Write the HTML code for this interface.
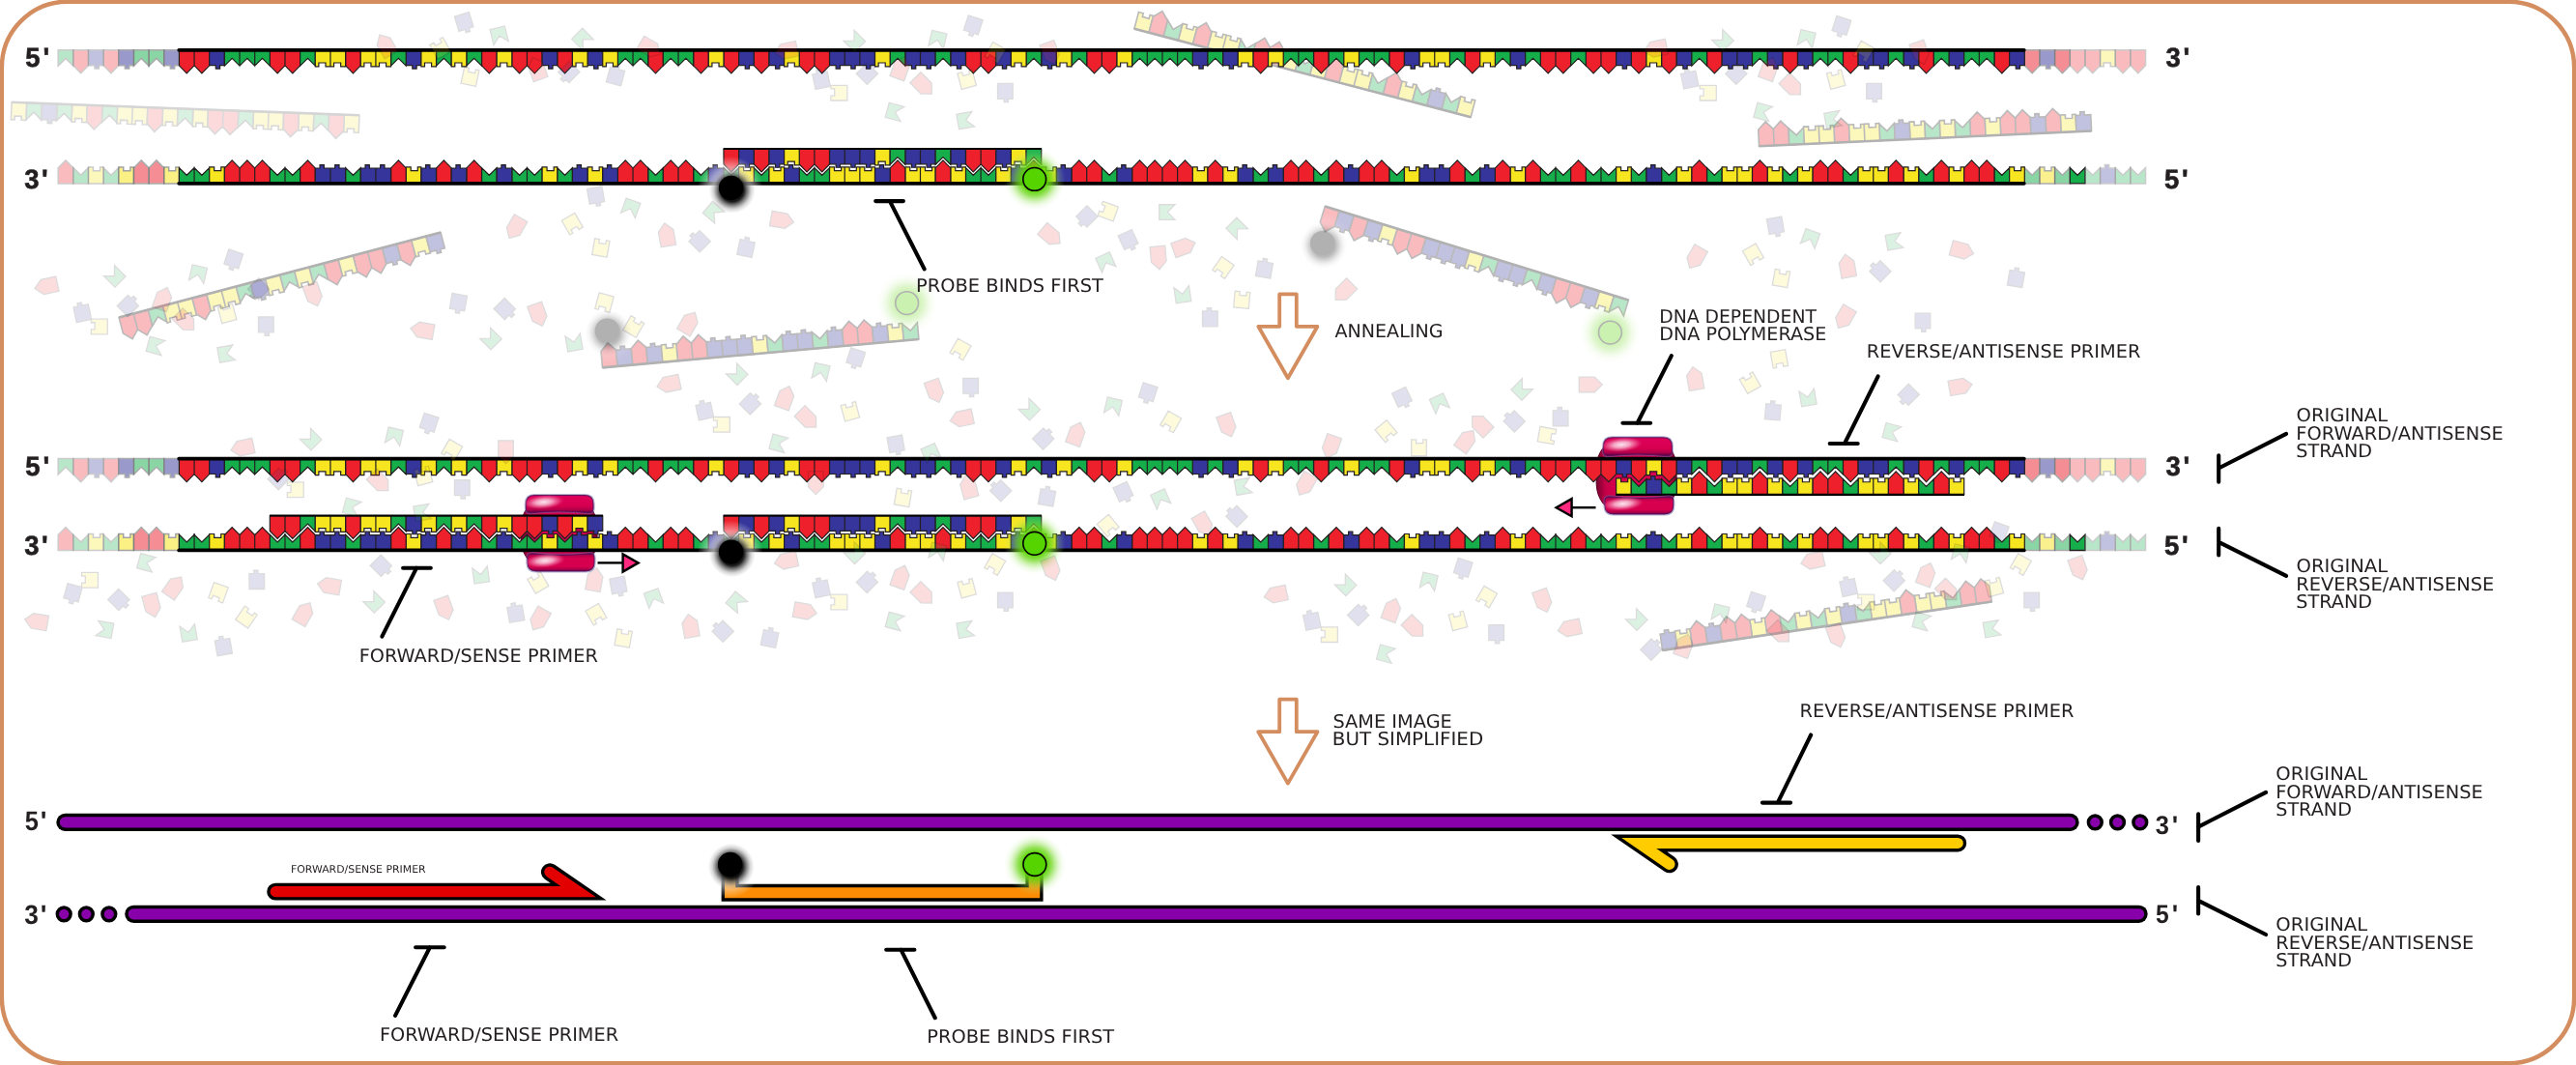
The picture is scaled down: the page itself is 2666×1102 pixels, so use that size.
<!DOCTYPE html>
<html lang="en"><head><meta charset="utf-8"><title>TaqMan probe annealing</title>
<style>html,body{margin:0;padding:0;background:#fff}body{width:2666px;height:1102px;overflow:hidden}svg{display:block;will-change:transform}text{font-family:"DejaVu Sans","Liberation Sans",sans-serif;fill:#231f20;text-rendering:geometricPrecision}.b{font-family:"Liberation Sans","DejaVu Sans",sans-serif;font-weight:bold;fill:#231f20;stroke:#231f20;stroke-width:.6px}.sb{font-family:"Liberation Sans","DejaVu Sans",sans-serif;font-weight:bold;fill:#231f20}</style></head><body>
<svg width="2666" height="1102" viewBox="0 0 2666 1102">
<defs>
<radialGradient id="gGreen"><stop offset="0" stop-color="#55d400" stop-opacity="1"/><stop offset="0.4" stop-color="#5cd406" stop-opacity=".95"/><stop offset="0.56" stop-color="#70d820" stop-opacity=".72"/><stop offset="0.69" stop-color="#88de44" stop-opacity=".45"/><stop offset="0.81" stop-color="#a2e66a" stop-opacity=".22"/><stop offset="0.93" stop-color="#bcee92" stop-opacity=".07"/><stop offset="1" stop-color="#c8f0a4" stop-opacity="0"/></radialGradient>
<radialGradient id="gBlack"><stop offset="0" stop-color="#000" stop-opacity="1"/><stop offset="0.5" stop-color="#000" stop-opacity=".9"/><stop offset="0.65" stop-color="#111" stop-opacity=".55"/><stop offset="0.82" stop-color="#333" stop-opacity=".2"/><stop offset="1" stop-color="#555" stop-opacity="0"/></radialGradient>
<radialGradient id="gWhite"><stop offset="0" stop-color="#fff" stop-opacity=".85"/><stop offset="0.5" stop-color="#fff" stop-opacity=".7"/><stop offset="0.75" stop-color="#fff" stop-opacity=".35"/><stop offset="1" stop-color="#fff" stop-opacity="0"/></radialGradient>
<linearGradient id="lobe" x1="0" y1="0" x2="0" y2="1"><stop offset="0" stop-color="#c80058"/><stop offset="0.12" stop-color="#de0058"/><stop offset="0.6" stop-color="#d6004f"/><stop offset="0.82" stop-color="#b2004a"/><stop offset="0.94" stop-color="#6c0048"/><stop offset="1" stop-color="#52104e"/></linearGradient>
<linearGradient id="lobeB" x1="0" y1="0" x2="0" y2="1"><stop offset="0" stop-color="#5a0a50"/><stop offset="0.1" stop-color="#b2004a"/><stop offset="0.28" stop-color="#d8004f"/><stop offset="0.75" stop-color="#d6004f"/><stop offset="0.92" stop-color="#a20048"/><stop offset="1" stop-color="#5c0c50"/></linearGradient>
<linearGradient id="bodyL" x1="0" y1="0" x2="1" y2="0"><stop offset="0" stop-color="#6a002a"/><stop offset="0.035" stop-color="#8e0036"/><stop offset="0.12" stop-color="#c60048"/><stop offset="0.25" stop-color="#d6004f"/><stop offset="0.75" stop-color="#d6004f"/><stop offset="0.88" stop-color="#c60048"/><stop offset="0.965" stop-color="#8e0036"/><stop offset="1" stop-color="#6a002a"/></linearGradient>
<radialGradient id="body"><stop offset="0" stop-color="#d80050"/><stop offset="0.78" stop-color="#d4004e"/><stop offset="0.92" stop-color="#b00042"/><stop offset="0.975" stop-color="#74002e"/><stop offset="1" stop-color="#5c0026"/></radialGradient>
<radialGradient id="shine"><stop offset="0" stop-color="#fff" stop-opacity=".9"/><stop offset="0.4" stop-color="#ffe4ee" stop-opacity=".7"/><stop offset="0.75" stop-color="#ffa8c8" stop-opacity=".3"/><stop offset="1" stop-color="#e8407c" stop-opacity="0"/></radialGradient>
<linearGradient id="stubL" x1="0" y1="0" x2="0" y2="1"><stop offset="0" stop-color="#2a1a00"/><stop offset="0.55" stop-color="#c87400"/><stop offset="1" stop-color="#fb8c04"/></linearGradient>
<linearGradient id="stubR" x1="0" y1="0" x2="0" y2="1"><stop offset="0" stop-color="#5ea000"/><stop offset="0.55" stop-color="#d89000"/><stop offset="1" stop-color="#fb8c04"/></linearGradient>
</defs>
<rect x="1.9" y="1.7" width="2662.2" height="1098.6" rx="68" ry="68" fill="#fff" stroke="#d38d5f" stroke-width="4.4"/>
<g transform="translate(12.1 105.8) rotate(2.15)" opacity="0.16">
<g stroke="#231f20" stroke-width="1.6"><path fill="#f7e51f" d="M0,0 15.65,0 15.65,17.95 10.7,17.95 10.7,14.15 3.6,14.15 3.6,17.95 0,17.95ZM62.62,0 78.27,0 78.27,17.95 73.32,17.95 73.32,14.15 66.22,14.15 66.22,17.95 62.62,17.95ZM109.58,0 125.24,0 125.24,17.95 120.28,17.95 120.28,14.15 113.18,14.15 113.18,17.95 109.58,17.95ZM125.24,0 140.89,0 140.89,17.95 135.94,17.95 135.94,14.15 128.84,14.15 128.84,17.95 125.24,17.95ZM156.55,0 172.2,0 172.2,17.95 167.25,17.95 167.25,14.15 160.15,14.15 160.15,17.95 156.55,17.95ZM187.86,0 203.51,0 203.51,17.95 198.56,17.95 198.56,14.15 191.46,14.15 191.46,17.95 187.86,17.95ZM250.48,0 266.13,0 266.13,17.95 261.18,17.95 261.18,14.15 254.08,14.15 254.08,17.95 250.48,17.95ZM266.13,0 281.79,0 281.79,17.95 276.83,17.95 276.83,14.15 269.74,14.15 269.74,17.95 266.13,17.95ZM297.44,0 313.1,0 313.1,17.95 308.14,17.95 308.14,14.15 301.05,14.15 301.05,17.95 297.44,17.95ZM344.41,0 360.06,0 360.06,17.95 355.11,17.95 355.11,14.15 348.01,14.15 348.01,17.95 344.41,17.95Z"/><path fill="#16ae4b" d="M15.65,0 31.31,0 31.31,17.25 23.48,9.55 15.65,17.25ZM46.96,0 62.62,0 62.62,17.25 54.79,9.55 46.96,17.25ZM93.93,0 109.58,0 109.58,17.25 101.76,9.55 93.93,17.25ZM172.2,0 187.86,0 187.86,17.25 180.03,9.55 172.2,17.25ZM234.82,0 250.48,0 250.48,17.25 242.65,9.55 234.82,17.25ZM313.1,0 328.75,0 328.75,17.25 320.93,9.55 313.1,17.25Z"/><path fill="#35359b" d="M31.31,0 46.96,0 46.96,16.85 42.21,16.85 42.21,20.25 37.91,20.25 37.91,16.85 31.31,16.85Z"/><path fill="#ed202b" d="M78.27,0 93.93,0 93.93,16.95 86.1,24.95 78.27,16.95ZM140.89,0 156.55,0 156.55,16.95 148.72,24.95 140.89,16.95ZM203.51,0 219.17,0 219.17,16.95 211.34,24.95 203.51,16.95ZM219.17,0 234.82,0 234.82,16.95 227,24.95 219.17,16.95ZM281.79,0 297.44,0 297.44,16.95 289.62,24.95 281.79,16.95ZM328.75,0 344.41,0 344.41,16.95 336.58,24.95 328.75,16.95Z"/></g>
<line x1="0" y1="0" x2="360.06" y2="0" stroke="#000" stroke-width="2.6"/>
</g>
<g transform="translate(1173.9 29.8) rotate(14.7)" opacity="0.3">
<g stroke="#231f20" stroke-width="1.6"><path fill="#f7e51f" d="M15.65,0 0,0 0,-17.95 4.96,-17.95 4.96,-14.15 12.05,-14.15 12.05,-17.95 15.65,-17.95ZM62.62,0 46.96,0 46.96,-17.95 51.92,-17.95 51.92,-14.15 59.02,-14.15 59.02,-17.95 62.62,-17.95ZM93.93,0 78.27,0 78.27,-17.95 83.23,-17.95 83.23,-14.15 90.33,-14.15 90.33,-17.95 93.93,-17.95ZM109.58,0 93.93,0 93.93,-17.95 98.88,-17.95 98.88,-14.15 105.98,-14.15 105.98,-17.95 109.58,-17.95ZM172.2,0 156.55,0 156.55,-17.95 161.5,-17.95 161.5,-14.15 168.6,-14.15 168.6,-17.95 172.2,-17.95ZM203.51,0 187.86,0 187.86,-17.95 192.81,-17.95 192.81,-14.15 199.91,-14.15 199.91,-17.95 203.51,-17.95ZM234.82,0 219.17,0 219.17,-17.95 224.12,-17.95 224.12,-14.15 231.22,-14.15 231.22,-17.95 234.82,-17.95ZM250.48,0 234.82,0 234.82,-17.95 239.78,-17.95 239.78,-14.15 246.88,-14.15 246.88,-17.95 250.48,-17.95ZM297.44,0 281.79,0 281.79,-17.95 286.74,-17.95 286.74,-14.15 293.84,-14.15 293.84,-17.95 297.44,-17.95ZM360.06,0 344.41,0 344.41,-17.95 349.36,-17.95 349.36,-14.15 356.46,-14.15 356.46,-17.95 360.06,-17.95Z"/><path fill="#ed202b" d="M31.31,0 15.65,0 15.65,-16.95 23.48,-24.95 31.31,-16.95ZM78.27,0 62.62,0 62.62,-16.95 70.45,-24.95 78.27,-16.95ZM140.89,0 125.24,0 125.24,-16.95 133.07,-24.95 140.89,-16.95ZM156.55,0 140.89,0 140.89,-16.95 148.72,-24.95 156.55,-16.95ZM219.17,0 203.51,0 203.51,-16.95 211.34,-24.95 219.17,-16.95ZM281.79,0 266.13,0 266.13,-16.95 273.96,-24.95 281.79,-16.95Z"/><path fill="#16ae4b" d="M46.96,0 31.31,0 31.31,-17.25 39.14,-9.55 46.96,-17.25ZM125.24,0 109.58,0 109.58,-17.25 117.41,-9.55 125.24,-17.25ZM187.86,0 172.2,0 172.2,-17.25 180.03,-9.55 187.86,-17.25ZM266.13,0 250.48,0 250.48,-17.25 258.31,-9.55 266.13,-17.25ZM313.1,0 297.44,0 297.44,-17.25 305.27,-9.55 313.1,-17.25ZM344.41,0 328.75,0 328.75,-17.25 336.58,-9.55 344.41,-17.25Z"/><path fill="#35359b" d="M328.75,0 313.1,0 313.1,-16.85 317.85,-16.85 317.85,-20.25 322.15,-20.25 322.15,-16.85 328.75,-16.85Z"/></g>
<line x1="0" y1="0" x2="360.06" y2="0" stroke="#000" stroke-width="2.6"/>
</g>
<g transform="translate(1820.5 151.2) rotate(-2.62)" opacity="0.3">
<g stroke="#231f20" stroke-width="1.6"><path fill="#ed202b" d="M15.65,0 0,0 0,-16.95 7.83,-24.95 15.65,-16.95ZM31.31,0 15.65,0 15.65,-16.95 23.48,-24.95 31.31,-16.95ZM93.93,0 78.27,0 78.27,-16.95 86.1,-24.95 93.93,-16.95ZM234.82,0 219.17,0 219.17,-16.95 227,-24.95 234.82,-16.95ZM266.13,0 250.48,0 250.48,-16.95 258.31,-24.95 266.13,-16.95ZM281.79,0 266.13,0 266.13,-16.95 273.96,-24.95 281.79,-16.95ZM313.1,0 297.44,0 297.44,-16.95 305.27,-24.95 313.1,-16.95Z"/><path fill="#16ae4b" d="M46.96,0 31.31,0 31.31,-17.25 39.14,-9.55 46.96,-17.25ZM140.89,0 125.24,0 125.24,-17.25 133.07,-9.55 140.89,-17.25ZM187.86,0 172.2,0 172.2,-17.25 180.03,-9.55 187.86,-17.25ZM219.17,0 203.51,0 203.51,-17.25 211.34,-9.55 219.17,-17.25Z"/><path fill="#f7e51f" d="M62.62,0 46.96,0 46.96,-17.95 51.92,-17.95 51.92,-14.15 59.02,-14.15 59.02,-17.95 62.62,-17.95ZM78.27,0 62.62,0 62.62,-17.95 67.57,-17.95 67.57,-14.15 74.67,-14.15 74.67,-17.95 78.27,-17.95ZM109.58,0 93.93,0 93.93,-17.95 98.88,-17.95 98.88,-14.15 105.98,-14.15 105.98,-17.95 109.58,-17.95ZM125.24,0 109.58,0 109.58,-17.95 114.54,-17.95 114.54,-14.15 121.64,-14.15 121.64,-17.95 125.24,-17.95ZM172.2,0 156.55,0 156.55,-17.95 161.5,-17.95 161.5,-14.15 168.6,-14.15 168.6,-17.95 172.2,-17.95ZM203.51,0 187.86,0 187.86,-17.95 192.81,-17.95 192.81,-14.15 199.91,-14.15 199.91,-17.95 203.51,-17.95ZM250.48,0 234.82,0 234.82,-17.95 239.78,-17.95 239.78,-14.15 246.88,-14.15 246.88,-17.95 250.48,-17.95ZM328.75,0 313.1,0 313.1,-17.95 318.05,-17.95 318.05,-14.15 325.15,-14.15 325.15,-17.95 328.75,-17.95Z"/><path fill="#35359b" d="M156.55,0 140.89,0 140.89,-16.85 145.65,-16.85 145.65,-20.25 149.95,-20.25 149.95,-16.85 156.55,-16.85ZM297.44,0 281.79,0 281.79,-16.85 286.54,-16.85 286.54,-20.25 290.84,-20.25 290.84,-16.85 297.44,-16.85ZM344.41,0 328.75,0 328.75,-16.85 333.51,-16.85 333.51,-20.25 337.81,-20.25 337.81,-16.85 344.41,-16.85Z"/></g>
<line x1="0" y1="0" x2="344.41" y2="0" stroke="#000" stroke-width="2.6"/>
</g>
<g transform="translate(123.1 328.6) rotate(-14.83)" opacity="0.3">
<g stroke="#231f20" stroke-width="1.6"><path fill="#ed202b" d="M0,0 15.65,0 15.65,16.95 7.83,24.95 0,16.95ZM15.65,0 31.31,0 31.31,16.95 23.48,24.95 15.65,16.95ZM78.27,0 93.93,0 93.93,16.95 86.1,24.95 78.27,16.95ZM219.17,0 234.82,0 234.82,16.95 227,24.95 219.17,16.95ZM250.48,0 266.13,0 266.13,16.95 258.31,24.95 250.48,16.95ZM266.13,0 281.79,0 281.79,16.95 273.96,24.95 266.13,16.95ZM297.44,0 313.1,0 313.1,16.95 305.27,24.95 297.44,16.95Z"/><path fill="#16ae4b" d="M31.31,0 46.96,0 46.96,17.25 39.14,9.55 31.31,17.25ZM125.24,0 140.89,0 140.89,17.25 133.07,9.55 125.24,17.25ZM172.2,0 187.86,0 187.86,17.25 180.03,9.55 172.2,17.25ZM203.51,0 219.17,0 219.17,17.25 211.34,9.55 203.51,17.25Z"/><path fill="#f7e51f" d="M46.96,0 62.62,0 62.62,17.95 57.66,17.95 57.66,14.15 50.56,14.15 50.56,17.95 46.96,17.95ZM62.62,0 78.27,0 78.27,17.95 73.32,17.95 73.32,14.15 66.22,14.15 66.22,17.95 62.62,17.95ZM93.93,0 109.58,0 109.58,17.95 104.63,17.95 104.63,14.15 97.53,14.15 97.53,17.95 93.93,17.95ZM109.58,0 125.24,0 125.24,17.95 120.28,17.95 120.28,14.15 113.18,14.15 113.18,17.95 109.58,17.95ZM156.55,0 172.2,0 172.2,17.95 167.25,17.95 167.25,14.15 160.15,14.15 160.15,17.95 156.55,17.95ZM187.86,0 203.51,0 203.51,17.95 198.56,17.95 198.56,14.15 191.46,14.15 191.46,17.95 187.86,17.95ZM234.82,0 250.48,0 250.48,17.95 245.52,17.95 245.52,14.15 238.42,14.15 238.42,17.95 234.82,17.95ZM313.1,0 328.75,0 328.75,17.95 323.8,17.95 323.8,14.15 316.7,14.15 316.7,17.95 313.1,17.95Z"/><path fill="#35359b" d="M140.89,0 156.55,0 156.55,16.85 151.79,16.85 151.79,20.25 147.49,20.25 147.49,16.85 140.89,16.85ZM281.79,0 297.44,0 297.44,16.85 292.69,16.85 292.69,20.25 288.39,20.25 288.39,16.85 281.79,16.85ZM328.75,0 344.41,0 344.41,16.85 339.65,16.85 339.65,20.25 335.36,20.25 335.36,16.85 328.75,16.85Z"/></g>
<line x1="0" y1="0" x2="344.41" y2="0" stroke="#000" stroke-width="2.6"/>
</g>
<g transform="translate(623.5 380.4) rotate(-5.13)" opacity="0.3">
<g stroke="#231f20" stroke-width="1.6"><path fill="#ed202b" d="M15.65,0 0,0 0,-16.95 7.83,-24.95 15.65,-16.95ZM46.96,0 31.31,0 31.31,-16.95 39.14,-24.95 46.96,-16.95ZM93.93,0 78.27,0 78.27,-16.95 86.1,-24.95 93.93,-16.95ZM109.58,0 93.93,0 93.93,-16.95 101.76,-24.95 109.58,-16.95ZM266.13,0 250.48,0 250.48,-16.95 258.31,-24.95 266.13,-16.95ZM281.79,0 266.13,0 266.13,-16.95 273.96,-24.95 281.79,-16.95Z"/><path fill="#35359b" d="M31.31,0 15.65,0 15.65,-16.85 20.41,-16.85 20.41,-20.25 24.71,-20.25 24.71,-16.85 31.31,-16.85ZM62.62,0 46.96,0 46.96,-16.85 51.72,-16.85 51.72,-20.25 56.02,-20.25 56.02,-16.85 62.62,-16.85ZM125.24,0 109.58,0 109.58,-16.85 114.34,-16.85 114.34,-20.25 118.64,-20.25 118.64,-16.85 125.24,-16.85ZM140.89,0 125.24,0 125.24,-16.85 129.99,-16.85 129.99,-20.25 134.29,-20.25 134.29,-16.85 140.89,-16.85ZM156.55,0 140.89,0 140.89,-16.85 145.65,-16.85 145.65,-20.25 149.95,-20.25 149.95,-16.85 156.55,-16.85ZM203.51,0 187.86,0 187.86,-16.85 192.61,-16.85 192.61,-20.25 196.91,-20.25 196.91,-16.85 203.51,-16.85ZM219.17,0 203.51,0 203.51,-16.85 208.27,-16.85 208.27,-20.25 212.57,-20.25 212.57,-16.85 219.17,-16.85ZM250.48,0 234.82,0 234.82,-16.85 239.58,-16.85 239.58,-20.25 243.88,-20.25 243.88,-16.85 250.48,-16.85ZM297.44,0 281.79,0 281.79,-16.85 286.54,-16.85 286.54,-20.25 290.84,-20.25 290.84,-16.85 297.44,-16.85Z"/><path fill="#f7e51f" d="M78.27,0 62.62,0 62.62,-17.95 67.57,-17.95 67.57,-14.15 74.67,-14.15 74.67,-17.95 78.27,-17.95ZM172.2,0 156.55,0 156.55,-17.95 161.5,-17.95 161.5,-14.15 168.6,-14.15 168.6,-17.95 172.2,-17.95ZM313.1,0 297.44,0 297.44,-17.95 302.4,-17.95 302.4,-14.15 309.5,-14.15 309.5,-17.95 313.1,-17.95Z"/><path fill="#16ae4b" d="M187.86,0 172.2,0 172.2,-17.25 180.03,-9.55 187.86,-17.25ZM234.82,0 219.17,0 219.17,-17.25 227,-9.55 234.82,-17.25ZM328.75,0 313.1,0 313.1,-17.25 320.93,-9.55 328.75,-17.25Z"/></g>
<line x1="0" y1="0" x2="328.75" y2="0" stroke="#000" stroke-width="2.6"/>
</g>
<g transform="translate(1371.3 213.6) rotate(17.15)" opacity="0.3">
<g stroke="#231f20" stroke-width="1.6"><path fill="#ed202b" d="M0,0 15.65,0 15.65,16.95 7.83,24.95 0,16.95ZM31.31,0 46.96,0 46.96,16.95 39.14,24.95 31.31,16.95ZM78.27,0 93.93,0 93.93,16.95 86.1,24.95 78.27,16.95ZM93.93,0 109.58,0 109.58,16.95 101.76,24.95 93.93,16.95ZM250.48,0 266.13,0 266.13,16.95 258.31,24.95 250.48,16.95ZM266.13,0 281.79,0 281.79,16.95 273.96,24.95 266.13,16.95Z"/><path fill="#35359b" d="M15.65,0 31.31,0 31.31,16.85 26.55,16.85 26.55,20.25 22.25,20.25 22.25,16.85 15.65,16.85ZM46.96,0 62.62,0 62.62,16.85 57.86,16.85 57.86,20.25 53.56,20.25 53.56,16.85 46.96,16.85ZM109.58,0 125.24,0 125.24,16.85 120.48,16.85 120.48,20.25 116.18,20.25 116.18,16.85 109.58,16.85ZM125.24,0 140.89,0 140.89,16.85 136.14,16.85 136.14,20.25 131.84,20.25 131.84,16.85 125.24,16.85ZM140.89,0 156.55,0 156.55,16.85 151.79,16.85 151.79,20.25 147.49,20.25 147.49,16.85 140.89,16.85ZM187.86,0 203.51,0 203.51,16.85 198.76,16.85 198.76,20.25 194.46,20.25 194.46,16.85 187.86,16.85ZM203.51,0 219.17,0 219.17,16.85 214.41,16.85 214.41,20.25 210.11,20.25 210.11,16.85 203.51,16.85ZM234.82,0 250.48,0 250.48,16.85 245.72,16.85 245.72,20.25 241.42,20.25 241.42,16.85 234.82,16.85ZM281.79,0 297.44,0 297.44,16.85 292.69,16.85 292.69,20.25 288.39,20.25 288.39,16.85 281.79,16.85Z"/><path fill="#f7e51f" d="M62.62,0 78.27,0 78.27,17.95 73.32,17.95 73.32,14.15 66.22,14.15 66.22,17.95 62.62,17.95ZM156.55,0 172.2,0 172.2,17.95 167.25,17.95 167.25,14.15 160.15,14.15 160.15,17.95 156.55,17.95ZM297.44,0 313.1,0 313.1,17.95 308.14,17.95 308.14,14.15 301.05,14.15 301.05,17.95 297.44,17.95Z"/><path fill="#16ae4b" d="M172.2,0 187.86,0 187.86,17.25 180.03,9.55 172.2,17.25ZM219.17,0 234.82,0 234.82,17.25 227,9.55 219.17,17.25ZM313.1,0 328.75,0 328.75,17.25 320.93,9.55 313.1,17.25Z"/></g>
<line x1="0" y1="0" x2="328.75" y2="0" stroke="#000" stroke-width="2.6"/>
</g>
<g transform="translate(1720.6 672.9) rotate(-8.4)" opacity="0.3">
<g stroke="#231f20" stroke-width="1.6"><path fill="#35359b" d="M15.65,0 0,0 0,-16.85 4.75,-16.85 4.75,-20.25 9.05,-20.25 9.05,-16.85 15.65,-16.85ZM62.62,0 46.96,0 46.96,-16.85 51.72,-16.85 51.72,-20.25 56.02,-20.25 56.02,-16.85 62.62,-16.85ZM203.51,0 187.86,0 187.86,-16.85 192.61,-16.85 192.61,-20.25 196.91,-20.25 196.91,-16.85 203.51,-16.85Z"/><path fill="#f7e51f" d="M31.31,0 15.65,0 15.65,-17.95 20.61,-17.95 20.61,-14.15 27.71,-14.15 27.71,-17.95 31.31,-17.95ZM109.58,0 93.93,0 93.93,-17.95 98.88,-17.95 98.88,-14.15 105.98,-14.15 105.98,-17.95 109.58,-17.95ZM156.55,0 140.89,0 140.89,-17.95 145.85,-17.95 145.85,-14.15 152.95,-14.15 152.95,-17.95 156.55,-17.95ZM187.86,0 172.2,0 172.2,-17.95 177.16,-17.95 177.16,-14.15 184.26,-14.15 184.26,-17.95 187.86,-17.95ZM234.82,0 219.17,0 219.17,-17.95 224.12,-17.95 224.12,-14.15 231.22,-14.15 231.22,-17.95 234.82,-17.95ZM250.48,0 234.82,0 234.82,-17.95 239.78,-17.95 239.78,-14.15 246.88,-14.15 246.88,-17.95 250.48,-17.95ZM281.79,0 266.13,0 266.13,-17.95 271.09,-17.95 271.09,-14.15 278.19,-14.15 278.19,-17.95 281.79,-17.95ZM297.44,0 281.79,0 281.79,-17.95 286.74,-17.95 286.74,-14.15 293.84,-14.15 293.84,-17.95 297.44,-17.95Z"/><path fill="#ed202b" d="M46.96,0 31.31,0 31.31,-16.95 39.14,-24.95 46.96,-16.95ZM78.27,0 62.62,0 62.62,-16.95 70.45,-24.95 78.27,-16.95ZM93.93,0 78.27,0 78.27,-16.95 86.1,-24.95 93.93,-16.95ZM125.24,0 109.58,0 109.58,-16.95 117.41,-24.95 125.24,-16.95ZM266.13,0 250.48,0 250.48,-16.95 258.31,-24.95 266.13,-16.95ZM328.75,0 313.1,0 313.1,-16.95 320.93,-24.95 328.75,-16.95ZM344.41,0 328.75,0 328.75,-16.95 336.58,-24.95 344.41,-16.95Z"/><path fill="#16ae4b" d="M140.89,0 125.24,0 125.24,-17.25 133.07,-9.55 140.89,-17.25ZM172.2,0 156.55,0 156.55,-17.25 164.38,-9.55 172.2,-17.25ZM219.17,0 203.51,0 203.51,-17.25 211.34,-9.55 219.17,-17.25ZM313.1,0 297.44,0 297.44,-17.25 305.27,-9.55 313.1,-17.25Z"/></g>
<line x1="0" y1="0" x2="344.41" y2="0" stroke="#000" stroke-width="2.6"/>
</g>
<g opacity=".3">
<circle cx="627.4" cy="343.2" r="34" fill="url(#gWhite)"/>
<circle cx="629.6" cy="344.4" r="24" fill="url(#gBlack)"/>
<circle cx="628.4" cy="342.2" r="12.7" fill="#000"/>
<circle cx="938.6" cy="313.6" r="32" fill="url(#gGreen)"/>
<circle cx="938.6" cy="313.6" r="11.9" fill="#55d400" stroke="#000" stroke-width="1.6"/>
<circle cx="1367.7" cy="252.6" r="34" fill="url(#gWhite)"/>
<circle cx="1369.9" cy="253.8" r="24" fill="url(#gBlack)"/>
<circle cx="1368.7" cy="251.6" r="12.7" fill="#000"/>
<circle cx="1666.4" cy="344.1" r="32" fill="url(#gGreen)"/>
<circle cx="1666.4" cy="344.1" r="11.9" fill="#55d400" stroke="#000" stroke-width="1.6"/>
</g>
<g id="row1">
<path d="M60.16,51.8 75.82,51.8 75.82,68.1 67.99,60.4 60.16,68.1Z" fill="#16ae4b" stroke="#58595b" stroke-width="1.5" opacity="0.3"/>
<path d="M75.82,51.8 91.47,51.8 91.47,67.8 83.64,75.8 75.82,67.8Z" fill="#ed202b" stroke="#58595b" stroke-width="1.5" opacity="0.3"/>
<path d="M91.47,51.8 107.13,51.8 107.13,67.7 102.37,67.7 102.37,71.1 98.07,71.1 98.07,67.7 91.47,67.7Z" fill="#35359b" stroke="#58595b" stroke-width="1.5" opacity="0.3"/>
<path d="M107.13,51.8 122.78,51.8 122.78,67.8 114.95,75.8 107.13,67.8Z" fill="#ed202b" stroke="#58595b" stroke-width="1.5" opacity="0.3"/>
<path d="M122.78,51.8 138.44,51.8 138.44,67.7 133.68,67.7 133.68,71.1 129.38,71.1 129.38,67.7 122.78,67.7Z" fill="#35359b" stroke="#58595b" stroke-width="1.5" opacity="0.5"/>
<path d="M138.44,51.8 154.09,51.8 154.09,68.1 146.26,60.4 138.44,68.1Z" fill="#16ae4b" stroke="#58595b" stroke-width="1.5" opacity="0.5"/>
<path d="M154.09,51.8 169.75,51.8 169.75,68.1 161.92,60.4 154.09,68.1Z" fill="#16ae4b" stroke="#58595b" stroke-width="1.5" opacity="0.5"/>
<path d="M169.75,51.8 185.4,51.8 185.4,67.7 180.65,67.7 180.65,71.1 176.34,71.1 176.34,67.7 169.75,67.7Z" fill="#35359b" stroke="#58595b" stroke-width="1.5" opacity="0.5"/>
<path d="M2095.31,51.8 2110.97,51.8 2110.97,67.8 2103.14,75.8 2095.31,67.8Z" fill="#ed202b" stroke="#58595b" stroke-width="1.5" opacity="0.5"/>
<path d="M2110.96,51.8 2126.62,51.8 2126.62,67.7 2121.86,67.7 2121.86,71.1 2117.56,71.1 2117.56,67.7 2110.96,67.7Z" fill="#35359b" stroke="#58595b" stroke-width="1.5" opacity="0.5"/>
<path d="M2126.62,51.8 2142.28,51.8 2142.28,67.8 2134.45,75.8 2126.62,67.8Z" fill="#ed202b" stroke="#58595b" stroke-width="1.5" opacity="0.5"/>
<path d="M2142.28,51.8 2157.93,51.8 2157.93,67.8 2150.1,75.8 2142.28,67.8Z" fill="#ed202b" stroke="#58595b" stroke-width="1.5" opacity="0.3"/>
<path d="M2157.93,51.8 2173.59,51.8 2173.59,67.8 2165.76,75.8 2157.93,67.8Z" fill="#ed202b" stroke="#58595b" stroke-width="1.5" opacity="0.3"/>
<path d="M2173.59,51.8 2189.24,51.8 2189.24,68.8 2184.28,68.8 2184.28,65 2177.18,65 2177.18,68.8 2173.59,68.8Z" fill="#f7e51f" stroke="#58595b" stroke-width="1.5" opacity="0.3"/>
<path d="M2189.24,51.8 2204.89,51.8 2204.89,67.8 2197.07,75.8 2189.24,67.8Z" fill="#ed202b" stroke="#58595b" stroke-width="1.5" opacity="0.3"/>
<path d="M2204.89,51.8 2220.55,51.8 2220.55,67.8 2212.72,75.8 2204.89,67.8Z" fill="#ed202b" stroke="#58595b" stroke-width="1.5" opacity="0.3"/>
<g stroke="#231f20" stroke-width="1.2" stroke-linejoin="miter"><path fill="#ed202b" d="M185.4,52.5 201.06,52.5 201.06,67.8 193.23,75.8 185.4,67.8ZM201.06,52.5 216.71,52.5 216.71,67.8 208.88,75.8 201.06,67.8ZM279.33,52.5 294.98,52.5 294.98,67.8 287.16,75.8 279.33,67.8ZM294.99,52.5 310.64,52.5 310.64,67.8 302.81,75.8 294.99,67.8ZM357.61,52.5 373.26,52.5 373.26,67.8 365.43,75.8 357.61,67.8ZM498.5,52.5 514.15,52.5 514.15,67.8 506.33,75.8 498.5,67.8ZM529.81,52.5 545.46,52.5 545.46,67.8 537.64,75.8 529.81,67.8ZM545.47,52.5 561.12,52.5 561.12,67.8 553.29,75.8 545.47,67.8ZM576.77,52.5 592.43,52.5 592.43,67.8 584.6,75.8 576.77,67.8ZM670.71,52.5 686.36,52.5 686.36,67.8 678.53,75.8 670.71,67.8ZM717.67,52.5 733.32,52.5 733.32,67.8 725.5,75.8 717.67,67.8ZM748.98,52.5 764.63,52.5 764.63,67.8 756.81,75.8 748.98,67.8ZM780.29,52.5 795.94,52.5 795.94,67.8 788.12,75.8 780.29,67.8ZM827.25,52.5 842.91,52.5 842.91,67.8 835.08,75.8 827.25,67.8ZM842.91,52.5 858.56,52.5 858.56,67.8 850.74,75.8 842.91,67.8ZM999.46,52.5 1015.11,52.5 1015.11,67.8 1007.29,75.8 999.46,67.8ZM1015.11,52.5 1030.77,52.5 1030.77,67.8 1022.94,75.8 1015.11,67.8ZM1124.7,52.5 1140.36,52.5 1140.36,67.8 1132.53,75.8 1124.7,67.8ZM1140.36,52.5 1156.01,52.5 1156.01,67.8 1148.18,75.8 1140.36,67.8ZM1296.9,52.5 1312.56,52.5 1312.56,67.8 1304.73,75.8 1296.9,67.8ZM1359.53,52.5 1375.18,52.5 1375.18,67.8 1367.35,75.8 1359.53,67.8ZM1437.8,52.5 1453.45,52.5 1453.45,67.8 1445.63,75.8 1437.8,67.8ZM1516.08,52.5 1531.73,52.5 1531.73,67.8 1523.9,75.8 1516.08,67.8ZM1594.35,52.5 1610.01,52.5 1610.01,67.8 1602.18,75.8 1594.35,67.8ZM1610.01,52.5 1625.66,52.5 1625.66,67.8 1617.83,75.8 1610.01,67.8ZM1641.32,52.5 1656.97,52.5 1656.97,67.8 1649.14,75.8 1641.32,67.8ZM1656.97,52.5 1672.62,52.5 1672.62,67.8 1664.8,75.8 1656.97,67.8ZM1688.28,52.5 1703.93,52.5 1703.93,67.8 1696.11,75.8 1688.28,67.8ZM1719.59,52.5 1735.24,52.5 1735.24,67.8 1727.42,75.8 1719.59,67.8ZM1766.56,52.5 1782.21,52.5 1782.21,67.8 1774.38,75.8 1766.56,67.8ZM1844.83,52.5 1860.48,52.5 1860.48,67.8 1852.66,75.8 1844.83,67.8ZM1907.45,52.5 1923.11,52.5 1923.11,67.8 1915.28,75.8 1907.45,67.8ZM1985.72,52.5 2001.38,52.5 2001.38,67.8 1993.55,75.8 1985.72,67.8ZM2064,52.5 2079.66,52.5 2079.66,67.8 2071.83,75.8 2064,67.8Z"/><path fill="#35359b" d="M216.71,52.5 232.37,52.5 232.37,67.7 227.61,67.7 227.61,71.1 223.31,71.1 223.31,67.7 216.71,67.7ZM420.23,52.5 435.88,52.5 435.88,67.7 431.12,67.7 431.12,71.1 426.83,71.1 426.83,67.7 420.23,67.7ZM561.12,52.5 576.77,52.5 576.77,67.7 572.02,67.7 572.02,71.1 567.72,71.1 567.72,67.7 561.12,67.7ZM608.09,52.5 623.74,52.5 623.74,67.7 618.99,67.7 618.99,71.1 614.69,71.1 614.69,67.7 608.09,67.7ZM764.63,52.5 780.29,52.5 780.29,67.7 775.53,67.7 775.53,71.1 771.24,71.1 771.24,67.7 764.63,67.7ZM795.94,52.5 811.6,52.5 811.6,67.7 806.84,67.7 806.84,71.1 802.54,71.1 802.54,67.7 795.94,67.7ZM858.56,52.5 874.22,52.5 874.22,67.7 869.46,67.7 869.46,71.1 865.16,71.1 865.16,67.7 858.56,67.7ZM874.22,52.5 889.87,52.5 889.87,67.7 885.12,67.7 885.12,71.1 880.82,71.1 880.82,67.7 874.22,67.7ZM889.88,52.5 905.53,52.5 905.53,67.7 900.77,67.7 900.77,71.1 896.48,71.1 896.48,67.7 889.88,67.7ZM936.84,52.5 952.49,52.5 952.49,67.7 947.74,67.7 947.74,71.1 943.44,71.1 943.44,67.7 936.84,67.7ZM952.49,52.5 968.15,52.5 968.15,67.7 963.39,67.7 963.39,71.1 959.09,71.1 959.09,67.7 952.49,67.7ZM983.8,52.5 999.46,52.5 999.46,67.7 994.7,67.7 994.7,71.1 990.4,71.1 990.4,67.7 983.8,67.7ZM1030.77,52.5 1046.42,52.5 1046.42,67.7 1041.67,67.7 1041.67,71.1 1037.37,71.1 1037.37,67.7 1030.77,67.7ZM1077.73,52.5 1093.39,52.5 1093.39,67.7 1088.63,67.7 1088.63,71.1 1084.33,71.1 1084.33,67.7 1077.73,67.7ZM1234.29,52.5 1249.94,52.5 1249.94,67.7 1245.19,67.7 1245.19,71.1 1240.88,71.1 1240.88,67.7 1234.29,67.7ZM1265.6,52.5 1281.25,52.5 1281.25,67.7 1276.5,67.7 1276.5,71.1 1272.19,71.1 1272.19,67.7 1265.6,67.7ZM1453.45,52.5 1469.11,52.5 1469.11,67.7 1464.36,67.7 1464.36,71.1 1460.05,71.1 1460.05,67.7 1453.45,67.7ZM1563.04,52.5 1578.69,52.5 1578.69,67.7 1573.94,67.7 1573.94,71.1 1569.64,71.1 1569.64,67.7 1563.04,67.7ZM1672.62,52.5 1688.28,52.5 1688.28,67.7 1683.53,67.7 1683.53,71.1 1679.22,71.1 1679.22,67.7 1672.62,67.7ZM1735.25,52.5 1750.9,52.5 1750.9,67.7 1746.15,67.7 1746.15,71.1 1741.85,71.1 1741.85,67.7 1735.25,67.7ZM1782.21,52.5 1797.87,52.5 1797.87,67.7 1793.11,67.7 1793.11,71.1 1788.81,71.1 1788.81,67.7 1782.21,67.7ZM1797.87,52.5 1813.52,52.5 1813.52,67.7 1808.77,67.7 1808.77,71.1 1804.46,71.1 1804.46,67.7 1797.87,67.7ZM1829.17,52.5 1844.83,52.5 1844.83,67.7 1840.08,67.7 1840.08,71.1 1835.77,71.1 1835.77,67.7 1829.17,67.7ZM1860.49,52.5 1876.14,52.5 1876.14,67.7 1871.39,67.7 1871.39,71.1 1867.09,71.1 1867.09,67.7 1860.49,67.7ZM1923.11,52.5 1938.76,52.5 1938.76,67.7 1934.01,67.7 1934.01,71.1 1929.7,71.1 1929.7,67.7 1923.11,67.7ZM1938.76,52.5 1954.41,52.5 1954.41,67.7 1949.66,67.7 1949.66,71.1 1945.36,71.1 1945.36,67.7 1938.76,67.7ZM1970.07,52.5 1985.72,52.5 1985.72,67.7 1980.97,67.7 1980.97,71.1 1976.67,71.1 1976.67,67.7 1970.07,67.7ZM2017.04,52.5 2032.69,52.5 2032.69,67.7 2027.94,67.7 2027.94,71.1 2023.63,71.1 2023.63,67.7 2017.04,67.7ZM2079.65,52.5 2095.31,52.5 2095.31,67.7 2090.55,67.7 2090.55,71.1 2086.25,71.1 2086.25,67.7 2079.65,67.7Z"/><path fill="#16ae4b" d="M232.37,52.5 248.02,52.5 248.02,68.1 240.19,60.4 232.37,68.1ZM248.02,52.5 263.68,52.5 263.68,68.1 255.85,60.4 248.02,68.1ZM263.68,52.5 279.33,52.5 279.33,68.1 271.5,60.4 263.68,68.1ZM310.64,52.5 326.29,52.5 326.29,68.1 318.47,60.4 310.64,68.1ZM404.57,52.5 420.22,52.5 420.22,68.1 412.4,60.4 404.57,68.1ZM451.53,52.5 467.19,52.5 467.19,68.1 459.36,60.4 451.53,68.1ZM482.85,52.5 498.5,52.5 498.5,68.1 490.67,60.4 482.85,68.1ZM639.39,52.5 655.05,52.5 655.05,68.1 647.22,60.4 639.39,68.1ZM655.05,52.5 670.7,52.5 670.7,68.1 662.88,60.4 655.05,68.1ZM686.36,52.5 702.01,52.5 702.01,68.1 694.19,60.4 686.36,68.1ZM702.01,52.5 717.67,52.5 717.67,68.1 709.84,60.4 702.01,68.1ZM921.18,52.5 936.84,52.5 936.84,68.1 929.01,60.4 921.18,68.1ZM968.15,52.5 983.8,52.5 983.8,68.1 975.98,60.4 968.15,68.1ZM1062.08,52.5 1077.73,52.5 1077.73,68.1 1069.91,60.4 1062.08,68.1ZM1109.05,52.5 1124.7,52.5 1124.7,68.1 1116.87,60.4 1109.05,68.1ZM1171.66,52.5 1187.32,52.5 1187.32,68.1 1179.49,60.4 1171.66,68.1ZM1187.32,52.5 1202.97,52.5 1202.97,68.1 1195.15,60.4 1187.32,68.1ZM1202.97,52.5 1218.63,52.5 1218.63,68.1 1210.8,60.4 1202.97,68.1ZM1218.63,52.5 1234.29,52.5 1234.29,68.1 1226.46,60.4 1218.63,68.1ZM1249.94,52.5 1265.6,52.5 1265.6,68.1 1257.77,60.4 1249.94,68.1ZM1328.22,52.5 1343.87,52.5 1343.87,68.1 1336.04,60.4 1328.22,68.1ZM1343.87,52.5 1359.53,52.5 1359.53,68.1 1351.7,60.4 1343.87,68.1ZM1375.18,52.5 1390.84,52.5 1390.84,68.1 1383.01,60.4 1375.18,68.1ZM1406.49,52.5 1422.14,52.5 1422.14,68.1 1414.32,60.4 1406.49,68.1ZM1422.14,52.5 1437.8,52.5 1437.8,68.1 1429.97,60.4 1422.14,68.1ZM1500.42,52.5 1516.08,52.5 1516.08,68.1 1508.25,60.4 1500.42,68.1ZM1547.38,52.5 1563.04,52.5 1563.04,68.1 1555.21,60.4 1547.38,68.1ZM1578.69,52.5 1594.35,52.5 1594.35,68.1 1586.52,60.4 1578.69,68.1ZM1625.66,52.5 1641.32,52.5 1641.32,68.1 1633.49,60.4 1625.66,68.1ZM1750.9,52.5 1766.56,52.5 1766.56,68.1 1758.73,60.4 1750.9,68.1ZM1813.52,52.5 1829.17,52.5 1829.17,68.1 1821.35,60.4 1813.52,68.1ZM1876.14,52.5 1891.8,52.5 1891.8,68.1 1883.97,60.4 1876.14,68.1ZM1891.8,52.5 1907.45,52.5 1907.45,68.1 1899.62,60.4 1891.8,68.1ZM1954.41,52.5 1970.07,52.5 1970.07,68.1 1962.24,60.4 1954.41,68.1ZM2001.38,52.5 2017.04,52.5 2017.04,68.1 2009.21,60.4 2001.38,68.1ZM2032.69,52.5 2048.35,52.5 2048.35,68.1 2040.52,60.4 2032.69,68.1ZM2048.34,52.5 2064,52.5 2064,68.1 2056.17,60.4 2048.34,68.1Z"/><path fill="#f7e51f" d="M326.29,52.5 341.95,52.5 341.95,68.8 336.99,68.8 336.99,65 329.89,65 329.89,68.8 326.29,68.8ZM341.95,52.5 357.6,52.5 357.6,68.8 352.65,68.8 352.65,65 345.55,65 345.55,68.8 341.95,68.8ZM373.26,52.5 388.91,52.5 388.91,68.8 383.96,68.8 383.96,65 376.86,65 376.86,68.8 373.26,68.8ZM388.91,52.5 404.57,52.5 404.57,68.8 399.61,68.8 399.61,65 392.51,65 392.51,68.8 388.91,68.8ZM435.88,52.5 451.53,52.5 451.53,68.8 446.58,68.8 446.58,65 439.48,65 439.48,68.8 435.88,68.8ZM467.19,52.5 482.84,52.5 482.84,68.8 477.89,68.8 477.89,65 470.79,65 470.79,68.8 467.19,68.8ZM514.15,52.5 529.81,52.5 529.81,68.8 524.86,68.8 524.86,65 517.75,65 517.75,68.8 514.15,68.8ZM592.43,52.5 608.08,52.5 608.08,68.8 603.13,68.8 603.13,65 596.03,65 596.03,68.8 592.43,68.8ZM623.74,52.5 639.39,52.5 639.39,68.8 634.44,68.8 634.44,65 627.34,65 627.34,68.8 623.74,68.8ZM733.32,52.5 748.98,52.5 748.98,68.8 744.02,68.8 744.02,65 736.92,65 736.92,68.8 733.32,68.8ZM811.6,52.5 827.25,52.5 827.25,68.8 822.3,68.8 822.3,65 815.2,65 815.2,68.8 811.6,68.8ZM905.53,52.5 921.18,52.5 921.18,68.8 916.23,68.8 916.23,65 909.13,65 909.13,68.8 905.53,68.8ZM1046.42,52.5 1062.08,52.5 1062.08,68.8 1057.12,68.8 1057.12,65 1050.02,65 1050.02,68.8 1046.42,68.8ZM1093.39,52.5 1109.05,52.5 1109.05,68.8 1104.09,68.8 1104.09,65 1096.99,65 1096.99,68.8 1093.39,68.8ZM1156.01,52.5 1171.66,52.5 1171.66,68.8 1166.71,68.8 1166.71,65 1159.61,65 1159.61,68.8 1156.01,68.8ZM1281.25,52.5 1296.9,52.5 1296.9,68.8 1291.95,68.8 1291.95,65 1284.85,65 1284.85,68.8 1281.25,68.8ZM1312.56,52.5 1328.21,52.5 1328.21,68.8 1323.26,68.8 1323.26,65 1316.16,65 1316.16,68.8 1312.56,68.8ZM1390.84,52.5 1406.49,52.5 1406.49,68.8 1401.54,68.8 1401.54,65 1394.43,65 1394.43,68.8 1390.84,68.8ZM1469.11,52.5 1484.77,52.5 1484.77,68.8 1479.81,68.8 1479.81,65 1472.71,65 1472.71,68.8 1469.11,68.8ZM1484.77,52.5 1500.42,52.5 1500.42,68.8 1495.47,68.8 1495.47,65 1488.37,65 1488.37,68.8 1484.77,68.8ZM1531.73,52.5 1547.38,52.5 1547.38,68.8 1542.43,68.8 1542.43,65 1535.33,65 1535.33,68.8 1531.73,68.8ZM1703.93,52.5 1719.59,52.5 1719.59,68.8 1714.63,68.8 1714.63,65 1707.53,65 1707.53,68.8 1703.93,68.8Z"/></g>
<line x1="185.2" y1="51.85" x2="2094.81" y2="51.85" stroke="#000" stroke-width="3.7" stroke-linecap="round"/>
<path d="M75.82,189.9 60.16,189.9 60.16,173.9 67.99,165.9 75.82,173.9Z" fill="#ed202b" stroke="#58595b" stroke-width="1.5" opacity="0.3"/>
<path d="M91.47,189.9 75.82,189.9 75.82,173.6 83.64,181.3 91.47,173.6Z" fill="#16ae4b" stroke="#58595b" stroke-width="1.5" opacity="0.3"/>
<path d="M107.13,189.9 91.47,189.9 91.47,172.9 96.43,172.9 96.43,176.7 103.53,176.7 103.53,172.9 107.13,172.9Z" fill="#f7e51f" stroke="#58595b" stroke-width="1.5" opacity="0.3"/>
<path d="M122.78,189.9 107.13,189.9 107.13,173.6 114.95,181.3 122.78,173.6Z" fill="#16ae4b" stroke="#58595b" stroke-width="1.5" opacity="0.3"/>
<path d="M138.44,189.9 122.78,189.9 122.78,172.9 127.73,172.9 127.73,176.7 134.84,176.7 134.84,172.9 138.44,172.9Z" fill="#f7e51f" stroke="#58595b" stroke-width="1.5" opacity="0.55"/>
<path d="M154.09,189.9 138.44,189.9 138.44,173.9 146.26,165.9 154.09,173.9Z" fill="#ed202b" stroke="#58595b" stroke-width="1.5" opacity="0.5"/>
<path d="M169.75,189.9 154.09,189.9 154.09,173.9 161.92,165.9 169.75,173.9Z" fill="#ed202b" stroke="#58595b" stroke-width="1.5" opacity="0.5"/>
<path d="M185.4,189.9 169.75,189.9 169.75,172.9 174.7,172.9 174.7,176.7 181.8,176.7 181.8,172.9 185.4,172.9Z" fill="#f7e51f" stroke="#58595b" stroke-width="1.5" opacity="0.55"/>
<path d="M2110.97,189.9 2095.31,189.9 2095.31,173.6 2103.14,181.3 2110.97,173.6Z" fill="#16ae4b" stroke="#58595b" stroke-width="1.5" opacity="0.5"/>
<path d="M2126.62,189.9 2110.96,189.9 2110.96,172.9 2115.92,172.9 2115.92,176.7 2123.02,176.7 2123.02,172.9 2126.62,172.9Z" fill="#f7e51f" stroke="#58595b" stroke-width="1.5" opacity="0.5"/>
<path d="M2142.28,189.9 2126.62,189.9 2126.62,173.6 2134.45,181.3 2142.28,173.6Z" fill="#16ae4b" stroke="#58595b" stroke-width="1.5" opacity="0.5"/>
<path d="M2157.93,189.9 2142.28,189.9 2142.28,173.6 2150.1,181.3 2157.93,173.6Z" fill="#16ae4b" stroke="#231f20" stroke-width="1.3"/>
<path d="M2173.59,189.9 2157.93,189.9 2157.93,173.6 2165.76,181.3 2173.59,173.6Z" fill="#16ae4b" stroke="#58595b" stroke-width="1.5" opacity="0.3"/>
<path d="M2189.24,189.9 2173.59,189.9 2173.59,174 2178.34,174 2178.34,170.6 2182.64,170.6 2182.64,174 2189.24,174Z" fill="#35359b" stroke="#58595b" stroke-width="1.5" opacity="0.3"/>
<path d="M2204.89,189.9 2189.24,189.9 2189.24,173.6 2197.07,181.3 2204.89,173.6Z" fill="#16ae4b" stroke="#58595b" stroke-width="1.5" opacity="0.3"/>
<path d="M2220.55,189.9 2204.89,189.9 2204.89,173.6 2212.72,181.3 2220.55,173.6Z" fill="#16ae4b" stroke="#58595b" stroke-width="1.5" opacity="0.3"/>
<g stroke="#231f20" stroke-width="1.2" stroke-linejoin="miter"><path fill="#16ae4b" d="M201.06,189.2 185.4,189.2 185.4,173.6 193.23,181.3 201.06,173.6ZM216.71,189.2 201.06,189.2 201.06,173.6 208.88,181.3 216.71,173.6ZM294.98,189.2 279.33,189.2 279.33,173.6 287.16,181.3 294.98,173.6ZM310.64,189.2 294.99,189.2 294.99,173.6 302.81,181.3 310.64,173.6ZM373.26,189.2 357.61,189.2 357.61,173.6 365.43,181.3 373.26,173.6ZM514.15,189.2 498.5,189.2 498.5,173.6 506.33,181.3 514.15,173.6ZM545.46,189.2 529.81,189.2 529.81,173.6 537.64,181.3 545.46,173.6ZM561.12,189.2 545.47,189.2 545.47,173.6 553.29,181.3 561.12,173.6ZM592.43,189.2 576.77,189.2 576.77,173.6 584.6,181.3 592.43,173.6ZM686.36,189.2 670.71,189.2 670.71,173.6 678.53,181.3 686.36,173.6ZM733.32,189.2 717.67,189.2 717.67,173.6 725.5,181.3 733.32,173.6ZM764.63,189.2 748.98,189.2 748.98,173.6 756.81,181.3 764.63,173.6ZM795.94,189.2 780.29,189.2 780.29,173.6 788.12,181.3 795.94,173.6ZM842.91,189.2 827.25,189.2 827.25,173.6 835.08,181.3 842.91,173.6ZM858.56,189.2 842.91,189.2 842.91,173.6 850.74,181.3 858.56,173.6ZM1015.11,189.2 999.46,189.2 999.46,173.6 1007.29,181.3 1015.11,173.6ZM1030.77,189.2 1015.12,189.2 1015.12,173.6 1022.94,181.3 1030.77,173.6ZM1156.01,189.2 1140.36,189.2 1140.36,173.6 1148.18,181.3 1156.01,173.6ZM1312.56,189.2 1296.9,189.2 1296.9,173.6 1304.73,181.3 1312.56,173.6ZM1375.18,189.2 1359.53,189.2 1359.53,173.6 1367.35,181.3 1375.18,173.6ZM1453.45,189.2 1437.8,189.2 1437.8,173.6 1445.63,181.3 1453.45,173.6ZM1531.73,189.2 1516.08,189.2 1516.08,173.6 1523.9,181.3 1531.73,173.6ZM1610.01,189.2 1594.35,189.2 1594.35,173.6 1602.18,181.3 1610.01,173.6ZM1625.66,189.2 1610.01,189.2 1610.01,173.6 1617.83,181.3 1625.66,173.6ZM1656.97,189.2 1641.32,189.2 1641.32,173.6 1649.14,181.3 1656.97,173.6ZM1672.62,189.2 1656.97,189.2 1656.97,173.6 1664.8,181.3 1672.62,173.6ZM1703.93,189.2 1688.28,189.2 1688.28,173.6 1696.11,181.3 1703.93,173.6ZM1735.24,189.2 1719.59,189.2 1719.59,173.6 1727.42,181.3 1735.24,173.6ZM1782.21,189.2 1766.56,189.2 1766.56,173.6 1774.38,181.3 1782.21,173.6ZM1860.48,189.2 1844.83,189.2 1844.83,173.6 1852.66,181.3 1860.48,173.6ZM1923.11,189.2 1907.45,189.2 1907.45,173.6 1915.28,181.3 1923.11,173.6ZM2001.38,189.2 1985.72,189.2 1985.72,173.6 1993.55,181.3 2001.38,173.6ZM2079.66,189.2 2064,189.2 2064,173.6 2071.83,181.3 2079.66,173.6Z"/><path fill="#f7e51f" d="M232.37,189.2 216.71,189.2 216.71,172.9 221.67,172.9 221.67,176.7 228.77,176.7 228.77,172.9 232.37,172.9ZM435.88,189.2 420.23,189.2 420.23,172.9 425.18,172.9 425.18,176.7 432.28,176.7 432.28,172.9 435.88,172.9ZM576.77,189.2 561.12,189.2 561.12,172.9 566.07,172.9 566.07,176.7 573.17,176.7 573.17,172.9 576.77,172.9ZM623.74,189.2 608.09,189.2 608.09,172.9 613.04,172.9 613.04,176.7 620.14,176.7 620.14,172.9 623.74,172.9ZM780.29,189.2 764.63,189.2 764.63,172.9 769.59,172.9 769.59,176.7 776.69,176.7 776.69,172.9 780.29,172.9ZM811.6,189.2 795.94,189.2 795.94,172.9 800.9,172.9 800.9,176.7 808,176.7 808,172.9 811.6,172.9ZM874.22,189.2 858.56,189.2 858.56,172.9 863.52,172.9 863.52,176.7 870.62,176.7 870.62,172.9 874.22,172.9ZM889.87,189.2 874.22,189.2 874.22,172.9 879.17,172.9 879.17,176.7 886.27,176.7 886.27,172.9 889.87,172.9ZM905.53,189.2 889.88,189.2 889.88,172.9 894.83,172.9 894.83,176.7 901.93,176.7 901.93,172.9 905.53,172.9ZM952.49,189.2 936.84,189.2 936.84,172.9 941.79,172.9 941.79,176.7 948.89,176.7 948.89,172.9 952.49,172.9ZM968.15,189.2 952.49,189.2 952.49,172.9 957.45,172.9 957.45,176.7 964.55,176.7 964.55,172.9 968.15,172.9ZM999.46,189.2 983.8,189.2 983.8,172.9 988.76,172.9 988.76,176.7 995.86,176.7 995.86,172.9 999.46,172.9ZM1046.42,189.2 1030.77,189.2 1030.77,172.9 1035.72,172.9 1035.72,176.7 1042.83,176.7 1042.83,172.9 1046.42,172.9ZM1093.39,189.2 1077.73,189.2 1077.73,172.9 1082.69,172.9 1082.69,176.7 1089.79,176.7 1089.79,172.9 1093.39,172.9ZM1249.94,189.2 1234.29,189.2 1234.29,172.9 1239.24,172.9 1239.24,176.7 1246.34,176.7 1246.34,172.9 1249.94,172.9ZM1281.25,189.2 1265.6,189.2 1265.6,172.9 1270.55,172.9 1270.55,176.7 1277.65,176.7 1277.65,172.9 1281.25,172.9ZM1469.11,189.2 1453.45,189.2 1453.45,172.9 1458.41,172.9 1458.41,176.7 1465.51,176.7 1465.51,172.9 1469.11,172.9ZM1578.69,189.2 1563.04,189.2 1563.04,172.9 1567.99,172.9 1567.99,176.7 1575.1,176.7 1575.1,172.9 1578.69,172.9ZM1688.28,189.2 1672.62,189.2 1672.62,172.9 1677.58,172.9 1677.58,176.7 1684.68,176.7 1684.68,172.9 1688.28,172.9ZM1750.9,189.2 1735.25,189.2 1735.25,172.9 1740.2,172.9 1740.2,176.7 1747.3,176.7 1747.3,172.9 1750.9,172.9ZM1797.87,189.2 1782.21,189.2 1782.21,172.9 1787.16,172.9 1787.16,176.7 1794.27,176.7 1794.27,172.9 1797.87,172.9ZM1813.52,189.2 1797.87,189.2 1797.87,172.9 1802.82,172.9 1802.82,176.7 1809.92,176.7 1809.92,172.9 1813.52,172.9ZM1844.83,189.2 1829.17,189.2 1829.17,172.9 1834.13,172.9 1834.13,176.7 1841.23,176.7 1841.23,172.9 1844.83,172.9ZM1876.14,189.2 1860.49,189.2 1860.49,172.9 1865.44,172.9 1865.44,176.7 1872.54,176.7 1872.54,172.9 1876.14,172.9ZM1938.76,189.2 1923.11,189.2 1923.11,172.9 1928.06,172.9 1928.06,176.7 1935.16,176.7 1935.16,172.9 1938.76,172.9ZM1954.41,189.2 1938.76,189.2 1938.76,172.9 1943.71,172.9 1943.71,176.7 1950.82,176.7 1950.82,172.9 1954.41,172.9ZM1985.72,189.2 1970.07,189.2 1970.07,172.9 1975.02,172.9 1975.02,176.7 1982.12,176.7 1982.12,172.9 1985.72,172.9ZM2032.69,189.2 2017.04,189.2 2017.04,172.9 2021.99,172.9 2021.99,176.7 2029.09,176.7 2029.09,172.9 2032.69,172.9ZM2095.31,189.2 2079.65,189.2 2079.65,172.9 2084.61,172.9 2084.61,176.7 2091.71,176.7 2091.71,172.9 2095.31,172.9Z"/><path fill="#ed202b" d="M248.02,189.2 232.37,189.2 232.37,173.9 240.19,165.9 248.02,173.9ZM263.68,189.2 248.02,189.2 248.02,173.9 255.85,165.9 263.68,173.9ZM279.33,189.2 263.68,189.2 263.68,173.9 271.5,165.9 279.33,173.9ZM326.29,189.2 310.64,189.2 310.64,173.9 318.47,165.9 326.29,173.9ZM420.22,189.2 404.57,189.2 404.57,173.9 412.4,165.9 420.22,173.9ZM467.19,189.2 451.53,189.2 451.53,173.9 459.36,165.9 467.19,173.9ZM498.5,189.2 482.85,189.2 482.85,173.9 490.67,165.9 498.5,173.9ZM655.05,189.2 639.39,189.2 639.39,173.9 647.22,165.9 655.05,173.9ZM670.7,189.2 655.05,189.2 655.05,173.9 662.88,165.9 670.7,173.9ZM702.01,189.2 686.36,189.2 686.36,173.9 694.19,165.9 702.01,173.9ZM717.67,189.2 702.01,189.2 702.01,173.9 709.84,165.9 717.67,173.9ZM936.84,189.2 921.18,189.2 921.18,173.9 929.01,165.9 936.84,173.9ZM983.8,189.2 968.15,189.2 968.15,173.9 975.98,165.9 983.8,173.9ZM1077.73,189.2 1062.08,189.2 1062.08,173.9 1069.91,165.9 1077.73,173.9ZM1124.7,189.2 1109.05,189.2 1109.05,173.9 1116.87,165.9 1124.7,173.9ZM1140.36,189.2 1124.7,189.2 1124.7,173.9 1132.53,165.9 1140.36,173.9ZM1187.32,189.2 1171.66,189.2 1171.66,173.9 1179.49,165.9 1187.32,173.9ZM1202.97,189.2 1187.32,189.2 1187.32,173.9 1195.15,165.9 1202.97,173.9ZM1218.63,189.2 1202.97,189.2 1202.97,173.9 1210.8,165.9 1218.63,173.9ZM1234.29,189.2 1218.63,189.2 1218.63,173.9 1226.46,165.9 1234.29,173.9ZM1265.6,189.2 1249.94,189.2 1249.94,173.9 1257.77,165.9 1265.6,173.9ZM1343.87,189.2 1328.22,189.2 1328.22,173.9 1336.04,165.9 1343.87,173.9ZM1359.53,189.2 1343.87,189.2 1343.87,173.9 1351.7,165.9 1359.53,173.9ZM1390.84,189.2 1375.18,189.2 1375.18,173.9 1383.01,165.9 1390.84,173.9ZM1422.14,189.2 1406.49,189.2 1406.49,173.9 1414.32,165.9 1422.14,173.9ZM1437.8,189.2 1422.14,189.2 1422.14,173.9 1429.97,165.9 1437.8,173.9ZM1516.08,189.2 1500.42,189.2 1500.42,173.9 1508.25,165.9 1516.08,173.9ZM1563.04,189.2 1547.38,189.2 1547.38,173.9 1555.21,165.9 1563.04,173.9ZM1594.35,189.2 1578.69,189.2 1578.69,173.9 1586.52,165.9 1594.35,173.9ZM1641.32,189.2 1625.66,189.2 1625.66,173.9 1633.49,165.9 1641.32,173.9ZM1766.56,189.2 1750.9,189.2 1750.9,173.9 1758.73,165.9 1766.56,173.9ZM1829.17,189.2 1813.52,189.2 1813.52,173.9 1821.35,165.9 1829.17,173.9ZM1891.8,189.2 1876.14,189.2 1876.14,173.9 1883.97,165.9 1891.8,173.9ZM1907.45,189.2 1891.8,189.2 1891.8,173.9 1899.62,165.9 1907.45,173.9ZM1970.07,189.2 1954.41,189.2 1954.41,173.9 1962.24,165.9 1970.07,173.9ZM2017.04,189.2 2001.38,189.2 2001.38,173.9 2009.21,165.9 2017.04,173.9ZM2048.35,189.2 2032.69,189.2 2032.69,173.9 2040.52,165.9 2048.35,173.9ZM2064,189.2 2048.34,189.2 2048.34,173.9 2056.17,165.9 2064,173.9Z"/><path fill="#35359b" d="M341.95,189.2 326.29,189.2 326.29,174 331.05,174 331.05,170.6 335.35,170.6 335.35,174 341.95,174ZM357.6,189.2 341.95,189.2 341.95,174 346.7,174 346.7,170.6 351,170.6 351,174 357.6,174ZM388.91,189.2 373.26,189.2 373.26,174 378.01,174 378.01,170.6 382.31,170.6 382.31,174 388.91,174ZM404.57,189.2 388.91,189.2 388.91,174 393.67,174 393.67,170.6 397.97,170.6 397.97,174 404.57,174ZM451.53,189.2 435.88,189.2 435.88,174 440.63,174 440.63,170.6 444.93,170.6 444.93,174 451.53,174ZM482.84,189.2 467.19,189.2 467.19,174 471.94,174 471.94,170.6 476.24,170.6 476.24,174 482.84,174ZM529.81,189.2 514.15,189.2 514.15,174 518.91,174 518.91,170.6 523.21,170.6 523.21,174 529.81,174ZM608.08,189.2 592.43,189.2 592.43,174 597.18,174 597.18,170.6 601.48,170.6 601.48,174 608.08,174ZM639.39,189.2 623.74,189.2 623.74,174 628.5,174 628.5,170.6 632.79,170.6 632.79,174 639.39,174ZM748.98,189.2 733.32,189.2 733.32,174 738.08,174 738.08,170.6 742.38,170.6 742.38,174 748.98,174ZM827.25,189.2 811.6,189.2 811.6,174 816.35,174 816.35,170.6 820.65,170.6 820.65,174 827.25,174ZM921.18,189.2 905.53,189.2 905.53,174 910.28,174 910.28,170.6 914.58,170.6 914.58,174 921.18,174ZM1062.08,189.2 1046.42,189.2 1046.42,174 1051.18,174 1051.18,170.6 1055.48,170.6 1055.48,174 1062.08,174ZM1109.05,189.2 1093.39,189.2 1093.39,174 1098.14,174 1098.14,170.6 1102.45,170.6 1102.45,174 1109.05,174ZM1171.66,189.2 1156.01,189.2 1156.01,174 1160.76,174 1160.76,170.6 1165.07,170.6 1165.07,174 1171.66,174ZM1296.9,189.2 1281.25,189.2 1281.25,174 1286,174 1286,170.6 1290.31,170.6 1290.31,174 1296.9,174ZM1328.21,189.2 1312.56,189.2 1312.56,174 1317.31,174 1317.31,170.6 1321.62,170.6 1321.62,174 1328.21,174ZM1406.49,189.2 1390.84,189.2 1390.84,174 1395.59,174 1395.59,170.6 1399.89,170.6 1399.89,174 1406.49,174ZM1484.77,189.2 1469.11,189.2 1469.11,174 1473.87,174 1473.87,170.6 1478.17,170.6 1478.17,174 1484.77,174ZM1500.42,189.2 1484.77,189.2 1484.77,174 1489.52,174 1489.52,170.6 1493.82,170.6 1493.82,174 1500.42,174ZM1547.38,189.2 1531.73,189.2 1531.73,174 1536.48,174 1536.48,170.6 1540.79,170.6 1540.79,174 1547.38,174ZM1719.59,189.2 1703.93,189.2 1703.93,174 1708.69,174 1708.69,170.6 1712.99,170.6 1712.99,174 1719.59,174Z"/></g>
<line x1="185.2" y1="189.85" x2="2094.81" y2="189.85" stroke="#000" stroke-width="3.7" stroke-linecap="round"/>
<g stroke="#231f20" stroke-width="1.2" stroke-linejoin="miter"><path fill="#ed202b" d="M748.98,154.35 764.63,154.35 764.63,169.95 756.81,177.95 748.98,169.95ZM780.29,154.35 795.94,154.35 795.94,169.95 788.12,177.95 780.29,169.95ZM827.25,154.35 842.91,154.35 842.91,169.95 835.08,177.95 827.25,169.95ZM842.91,154.35 858.56,154.35 858.56,169.95 850.74,177.95 842.91,169.95ZM999.46,154.35 1015.11,154.35 1015.11,169.95 1007.29,177.95 999.46,169.95ZM1015.11,154.35 1030.77,154.35 1030.77,169.95 1022.94,177.95 1015.11,169.95Z"/><path fill="#35359b" d="M764.63,154.35 780.29,154.35 780.29,169.85 775.53,169.85 775.53,173.25 771.24,173.25 771.24,169.85 764.63,169.85ZM795.94,154.35 811.6,154.35 811.6,169.85 806.84,169.85 806.84,173.25 802.54,173.25 802.54,169.85 795.94,169.85ZM858.56,154.35 874.22,154.35 874.22,169.85 869.46,169.85 869.46,173.25 865.16,173.25 865.16,169.85 858.56,169.85ZM874.22,154.35 889.87,154.35 889.87,169.85 885.12,169.85 885.12,173.25 880.82,173.25 880.82,169.85 874.22,169.85ZM889.88,154.35 905.53,154.35 905.53,169.85 900.77,169.85 900.77,173.25 896.48,173.25 896.48,169.85 889.88,169.85ZM936.84,154.35 952.49,154.35 952.49,169.85 947.74,169.85 947.74,173.25 943.44,173.25 943.44,169.85 936.84,169.85ZM952.49,154.35 968.15,154.35 968.15,169.85 963.39,169.85 963.39,173.25 959.09,173.25 959.09,169.85 952.49,169.85ZM983.8,154.35 999.46,154.35 999.46,169.85 994.7,169.85 994.7,173.25 990.4,173.25 990.4,169.85 983.8,169.85ZM1030.77,154.35 1046.42,154.35 1046.42,169.85 1041.67,169.85 1041.67,173.25 1037.37,173.25 1037.37,169.85 1030.77,169.85Z"/><path fill="#f7e51f" d="M811.6,154.35 827.25,154.35 827.25,170.95 822.3,170.95 822.3,167.15 815.2,167.15 815.2,170.95 811.6,170.95ZM905.53,154.35 921.18,154.35 921.18,170.95 916.23,170.95 916.23,167.15 909.13,167.15 909.13,170.95 905.53,170.95ZM1046.42,154.35 1062.08,154.35 1062.08,170.95 1057.12,170.95 1057.12,167.15 1050.02,167.15 1050.02,170.95 1046.42,170.95Z"/><path fill="#16ae4b" d="M921.18,154.35 936.84,154.35 936.84,170.25 929.01,162.55 921.18,170.25ZM968.15,154.35 983.8,154.35 983.8,170.25 975.98,162.55 968.15,170.25ZM1062.08,154.35 1077.73,154.35 1077.73,170.25 1069.91,162.55 1062.08,170.25Z"/></g>
<line x1="748.68" y1="154.1" x2="1078.03" y2="154.1" stroke="#000" stroke-width="2" stroke-linecap="butt"/>
<circle cx="755.6" cy="195.5" r="34" fill="url(#gWhite)"/>
<circle cx="757.8" cy="196.7" r="24" fill="url(#gBlack)"/>
<circle cx="756.6" cy="194.5" r="12.7" fill="#000"/>
<circle cx="1070.7" cy="185.4" r="32" fill="url(#gGreen)"/>
<circle cx="1070.7" cy="185.4" r="11.9" fill="#55d400" stroke="#000" stroke-width="1.6"/>
</g>
<g id="row2">
<rect x="539.1" y="517.2" width="79" height="69" rx="22" ry="29" fill="url(#bodyL)" stroke="#5c0026" stroke-width="1"/>
<rect x="1652.1" y="455.7" width="83" height="73" rx="22" ry="29" fill="url(#bodyL)" stroke="#5c0026" stroke-width="1"/>
<path d="M60.16,474.6 75.82,474.6 75.82,490.9 67.99,483.2 60.16,490.9Z" fill="#16ae4b" stroke="#58595b" stroke-width="1.5" opacity="0.3"/>
<path d="M75.82,474.6 91.47,474.6 91.47,490.6 83.64,498.6 75.82,490.6Z" fill="#ed202b" stroke="#58595b" stroke-width="1.5" opacity="0.3"/>
<path d="M91.47,474.6 107.13,474.6 107.13,490.5 102.37,490.5 102.37,493.9 98.07,493.9 98.07,490.5 91.47,490.5Z" fill="#35359b" stroke="#58595b" stroke-width="1.5" opacity="0.3"/>
<path d="M107.13,474.6 122.78,474.6 122.78,490.6 114.95,498.6 107.13,490.6Z" fill="#ed202b" stroke="#58595b" stroke-width="1.5" opacity="0.3"/>
<path d="M122.78,474.6 138.44,474.6 138.44,490.5 133.68,490.5 133.68,493.9 129.38,493.9 129.38,490.5 122.78,490.5Z" fill="#35359b" stroke="#58595b" stroke-width="1.5" opacity="0.5"/>
<path d="M138.44,474.6 154.09,474.6 154.09,490.9 146.26,483.2 138.44,490.9Z" fill="#16ae4b" stroke="#58595b" stroke-width="1.5" opacity="0.5"/>
<path d="M154.09,474.6 169.75,474.6 169.75,490.9 161.92,483.2 154.09,490.9Z" fill="#16ae4b" stroke="#58595b" stroke-width="1.5" opacity="0.5"/>
<path d="M169.75,474.6 185.4,474.6 185.4,490.5 180.65,490.5 180.65,493.9 176.34,493.9 176.34,490.5 169.75,490.5Z" fill="#35359b" stroke="#58595b" stroke-width="1.5" opacity="0.5"/>
<path d="M2095.31,474.6 2110.97,474.6 2110.97,490.6 2103.14,498.6 2095.31,490.6Z" fill="#ed202b" stroke="#58595b" stroke-width="1.5" opacity="0.5"/>
<path d="M2110.96,474.6 2126.62,474.6 2126.62,490.5 2121.86,490.5 2121.86,493.9 2117.56,493.9 2117.56,490.5 2110.96,490.5Z" fill="#35359b" stroke="#58595b" stroke-width="1.5" opacity="0.5"/>
<path d="M2126.62,474.6 2142.28,474.6 2142.28,490.6 2134.45,498.6 2126.62,490.6Z" fill="#ed202b" stroke="#58595b" stroke-width="1.5" opacity="0.5"/>
<path d="M2142.28,474.6 2157.93,474.6 2157.93,490.6 2150.1,498.6 2142.28,490.6Z" fill="#ed202b" stroke="#58595b" stroke-width="1.5" opacity="0.3"/>
<path d="M2157.93,474.6 2173.59,474.6 2173.59,490.6 2165.76,498.6 2157.93,490.6Z" fill="#ed202b" stroke="#58595b" stroke-width="1.5" opacity="0.3"/>
<path d="M2173.59,474.6 2189.24,474.6 2189.24,491.6 2184.28,491.6 2184.28,487.8 2177.18,487.8 2177.18,491.6 2173.59,491.6Z" fill="#f7e51f" stroke="#58595b" stroke-width="1.5" opacity="0.3"/>
<path d="M2189.24,474.6 2204.89,474.6 2204.89,490.6 2197.07,498.6 2189.24,490.6Z" fill="#ed202b" stroke="#58595b" stroke-width="1.5" opacity="0.3"/>
<path d="M2204.89,474.6 2220.55,474.6 2220.55,490.6 2212.72,498.6 2204.89,490.6Z" fill="#ed202b" stroke="#58595b" stroke-width="1.5" opacity="0.3"/>
<g stroke="#231f20" stroke-width="1.2" stroke-linejoin="miter"><path fill="#ed202b" d="M185.4,475.3 201.06,475.3 201.06,490.6 193.23,498.6 185.4,490.6ZM201.06,475.3 216.71,475.3 216.71,490.6 208.88,498.6 201.06,490.6ZM279.33,475.3 294.98,475.3 294.98,490.6 287.16,498.6 279.33,490.6ZM294.99,475.3 310.64,475.3 310.64,490.6 302.81,498.6 294.99,490.6ZM357.61,475.3 373.26,475.3 373.26,490.6 365.43,498.6 357.61,490.6ZM498.5,475.3 514.15,475.3 514.15,490.6 506.33,498.6 498.5,490.6ZM529.81,475.3 545.46,475.3 545.46,490.6 537.64,498.6 529.81,490.6ZM545.47,475.3 561.12,475.3 561.12,490.6 553.29,498.6 545.47,490.6ZM576.77,475.3 592.43,475.3 592.43,490.6 584.6,498.6 576.77,490.6ZM670.71,475.3 686.36,475.3 686.36,490.6 678.53,498.6 670.71,490.6ZM717.67,475.3 733.32,475.3 733.32,490.6 725.5,498.6 717.67,490.6ZM748.98,475.3 764.63,475.3 764.63,490.6 756.81,498.6 748.98,490.6ZM780.29,475.3 795.94,475.3 795.94,490.6 788.12,498.6 780.29,490.6ZM827.25,475.3 842.91,475.3 842.91,490.6 835.08,498.6 827.25,490.6ZM842.91,475.3 858.56,475.3 858.56,490.6 850.74,498.6 842.91,490.6ZM999.46,475.3 1015.11,475.3 1015.11,490.6 1007.29,498.6 999.46,490.6ZM1015.11,475.3 1030.77,475.3 1030.77,490.6 1022.94,498.6 1015.11,490.6ZM1124.7,475.3 1140.36,475.3 1140.36,490.6 1132.53,498.6 1124.7,490.6ZM1140.36,475.3 1156.01,475.3 1156.01,490.6 1148.18,498.6 1140.36,490.6ZM1296.9,475.3 1312.56,475.3 1312.56,490.6 1304.73,498.6 1296.9,490.6ZM1359.53,475.3 1375.18,475.3 1375.18,490.6 1367.35,498.6 1359.53,490.6ZM1437.8,475.3 1453.45,475.3 1453.45,490.6 1445.63,498.6 1437.8,490.6ZM1516.08,475.3 1531.73,475.3 1531.73,490.6 1523.9,498.6 1516.08,490.6ZM1594.35,475.3 1610.01,475.3 1610.01,490.6 1602.18,498.6 1594.35,490.6ZM1610.01,475.3 1625.66,475.3 1625.66,490.6 1617.83,498.6 1610.01,490.6ZM1641.32,475.3 1656.97,475.3 1656.97,490.6 1649.14,498.6 1641.32,490.6ZM1656.97,475.3 1672.62,475.3 1672.62,490.6 1664.8,498.6 1656.97,490.6ZM1688.28,475.3 1703.93,475.3 1703.93,490.6 1696.11,498.6 1688.28,490.6ZM1719.59,475.3 1735.24,475.3 1735.24,490.6 1727.42,498.6 1719.59,490.6ZM1766.56,475.3 1782.21,475.3 1782.21,490.6 1774.38,498.6 1766.56,490.6ZM1844.83,475.3 1860.48,475.3 1860.48,490.6 1852.66,498.6 1844.83,490.6ZM1907.45,475.3 1923.11,475.3 1923.11,490.6 1915.28,498.6 1907.45,490.6ZM1985.72,475.3 2001.38,475.3 2001.38,490.6 1993.55,498.6 1985.72,490.6ZM2064,475.3 2079.66,475.3 2079.66,490.6 2071.83,498.6 2064,490.6Z"/><path fill="#35359b" d="M216.71,475.3 232.37,475.3 232.37,490.5 227.61,490.5 227.61,493.9 223.31,493.9 223.31,490.5 216.71,490.5ZM420.23,475.3 435.88,475.3 435.88,490.5 431.12,490.5 431.12,493.9 426.83,493.9 426.83,490.5 420.23,490.5ZM561.12,475.3 576.77,475.3 576.77,490.5 572.02,490.5 572.02,493.9 567.72,493.9 567.72,490.5 561.12,490.5ZM608.09,475.3 623.74,475.3 623.74,490.5 618.99,490.5 618.99,493.9 614.69,493.9 614.69,490.5 608.09,490.5ZM764.63,475.3 780.29,475.3 780.29,490.5 775.53,490.5 775.53,493.9 771.24,493.9 771.24,490.5 764.63,490.5ZM795.94,475.3 811.6,475.3 811.6,490.5 806.84,490.5 806.84,493.9 802.54,493.9 802.54,490.5 795.94,490.5ZM858.56,475.3 874.22,475.3 874.22,490.5 869.46,490.5 869.46,493.9 865.16,493.9 865.16,490.5 858.56,490.5ZM874.22,475.3 889.87,475.3 889.87,490.5 885.12,490.5 885.12,493.9 880.82,493.9 880.82,490.5 874.22,490.5ZM889.88,475.3 905.53,475.3 905.53,490.5 900.77,490.5 900.77,493.9 896.48,493.9 896.48,490.5 889.88,490.5ZM936.84,475.3 952.49,475.3 952.49,490.5 947.74,490.5 947.74,493.9 943.44,493.9 943.44,490.5 936.84,490.5ZM952.49,475.3 968.15,475.3 968.15,490.5 963.39,490.5 963.39,493.9 959.09,493.9 959.09,490.5 952.49,490.5ZM983.8,475.3 999.46,475.3 999.46,490.5 994.7,490.5 994.7,493.9 990.4,493.9 990.4,490.5 983.8,490.5ZM1030.77,475.3 1046.42,475.3 1046.42,490.5 1041.67,490.5 1041.67,493.9 1037.37,493.9 1037.37,490.5 1030.77,490.5ZM1077.73,475.3 1093.39,475.3 1093.39,490.5 1088.63,490.5 1088.63,493.9 1084.33,493.9 1084.33,490.5 1077.73,490.5ZM1234.29,475.3 1249.94,475.3 1249.94,490.5 1245.19,490.5 1245.19,493.9 1240.88,493.9 1240.88,490.5 1234.29,490.5ZM1265.6,475.3 1281.25,475.3 1281.25,490.5 1276.5,490.5 1276.5,493.9 1272.19,493.9 1272.19,490.5 1265.6,490.5ZM1453.45,475.3 1469.11,475.3 1469.11,490.5 1464.36,490.5 1464.36,493.9 1460.05,493.9 1460.05,490.5 1453.45,490.5ZM1563.04,475.3 1578.69,475.3 1578.69,490.5 1573.94,490.5 1573.94,493.9 1569.64,493.9 1569.64,490.5 1563.04,490.5ZM1672.62,475.3 1688.28,475.3 1688.28,490.5 1683.53,490.5 1683.53,493.9 1679.22,493.9 1679.22,490.5 1672.62,490.5ZM1735.25,475.3 1750.9,475.3 1750.9,490.5 1746.15,490.5 1746.15,493.9 1741.85,493.9 1741.85,490.5 1735.25,490.5ZM1782.21,475.3 1797.87,475.3 1797.87,490.5 1793.11,490.5 1793.11,493.9 1788.81,493.9 1788.81,490.5 1782.21,490.5ZM1797.87,475.3 1813.52,475.3 1813.52,490.5 1808.77,490.5 1808.77,493.9 1804.46,493.9 1804.46,490.5 1797.87,490.5ZM1829.17,475.3 1844.83,475.3 1844.83,490.5 1840.08,490.5 1840.08,493.9 1835.77,493.9 1835.77,490.5 1829.17,490.5ZM1860.49,475.3 1876.14,475.3 1876.14,490.5 1871.39,490.5 1871.39,493.9 1867.09,493.9 1867.09,490.5 1860.49,490.5ZM1923.11,475.3 1938.76,475.3 1938.76,490.5 1934.01,490.5 1934.01,493.9 1929.7,493.9 1929.7,490.5 1923.11,490.5ZM1938.76,475.3 1954.41,475.3 1954.41,490.5 1949.66,490.5 1949.66,493.9 1945.36,493.9 1945.36,490.5 1938.76,490.5ZM1970.07,475.3 1985.72,475.3 1985.72,490.5 1980.97,490.5 1980.97,493.9 1976.67,493.9 1976.67,490.5 1970.07,490.5ZM2017.04,475.3 2032.69,475.3 2032.69,490.5 2027.94,490.5 2027.94,493.9 2023.63,493.9 2023.63,490.5 2017.04,490.5ZM2079.65,475.3 2095.31,475.3 2095.31,490.5 2090.55,490.5 2090.55,493.9 2086.25,493.9 2086.25,490.5 2079.65,490.5Z"/><path fill="#16ae4b" d="M232.37,475.3 248.02,475.3 248.02,490.9 240.19,483.2 232.37,490.9ZM248.02,475.3 263.68,475.3 263.68,490.9 255.85,483.2 248.02,490.9ZM263.68,475.3 279.33,475.3 279.33,490.9 271.5,483.2 263.68,490.9ZM310.64,475.3 326.29,475.3 326.29,490.9 318.47,483.2 310.64,490.9ZM404.57,475.3 420.22,475.3 420.22,490.9 412.4,483.2 404.57,490.9ZM451.53,475.3 467.19,475.3 467.19,490.9 459.36,483.2 451.53,490.9ZM482.85,475.3 498.5,475.3 498.5,490.9 490.67,483.2 482.85,490.9ZM639.39,475.3 655.05,475.3 655.05,490.9 647.22,483.2 639.39,490.9ZM655.05,475.3 670.7,475.3 670.7,490.9 662.88,483.2 655.05,490.9ZM686.36,475.3 702.01,475.3 702.01,490.9 694.19,483.2 686.36,490.9ZM702.01,475.3 717.67,475.3 717.67,490.9 709.84,483.2 702.01,490.9ZM921.18,475.3 936.84,475.3 936.84,490.9 929.01,483.2 921.18,490.9ZM968.15,475.3 983.8,475.3 983.8,490.9 975.98,483.2 968.15,490.9ZM1062.08,475.3 1077.73,475.3 1077.73,490.9 1069.91,483.2 1062.08,490.9ZM1109.05,475.3 1124.7,475.3 1124.7,490.9 1116.87,483.2 1109.05,490.9ZM1171.66,475.3 1187.32,475.3 1187.32,490.9 1179.49,483.2 1171.66,490.9ZM1187.32,475.3 1202.97,475.3 1202.97,490.9 1195.15,483.2 1187.32,490.9ZM1202.97,475.3 1218.63,475.3 1218.63,490.9 1210.8,483.2 1202.97,490.9ZM1218.63,475.3 1234.29,475.3 1234.29,490.9 1226.46,483.2 1218.63,490.9ZM1249.94,475.3 1265.6,475.3 1265.6,490.9 1257.77,483.2 1249.94,490.9ZM1328.22,475.3 1343.87,475.3 1343.87,490.9 1336.04,483.2 1328.22,490.9ZM1343.87,475.3 1359.53,475.3 1359.53,490.9 1351.7,483.2 1343.87,490.9ZM1375.18,475.3 1390.84,475.3 1390.84,490.9 1383.01,483.2 1375.18,490.9ZM1406.49,475.3 1422.14,475.3 1422.14,490.9 1414.32,483.2 1406.49,490.9ZM1422.14,475.3 1437.8,475.3 1437.8,490.9 1429.97,483.2 1422.14,490.9ZM1500.42,475.3 1516.08,475.3 1516.08,490.9 1508.25,483.2 1500.42,490.9ZM1547.38,475.3 1563.04,475.3 1563.04,490.9 1555.21,483.2 1547.38,490.9ZM1578.69,475.3 1594.35,475.3 1594.35,490.9 1586.52,483.2 1578.69,490.9ZM1625.66,475.3 1641.32,475.3 1641.32,490.9 1633.49,483.2 1625.66,490.9ZM1750.9,475.3 1766.56,475.3 1766.56,490.9 1758.73,483.2 1750.9,490.9ZM1813.52,475.3 1829.17,475.3 1829.17,490.9 1821.35,483.2 1813.52,490.9ZM1876.14,475.3 1891.8,475.3 1891.8,490.9 1883.97,483.2 1876.14,490.9ZM1891.8,475.3 1907.45,475.3 1907.45,490.9 1899.62,483.2 1891.8,490.9ZM1954.41,475.3 1970.07,475.3 1970.07,490.9 1962.24,483.2 1954.41,490.9ZM2001.38,475.3 2017.04,475.3 2017.04,490.9 2009.21,483.2 2001.38,490.9ZM2032.69,475.3 2048.35,475.3 2048.35,490.9 2040.52,483.2 2032.69,490.9ZM2048.34,475.3 2064,475.3 2064,490.9 2056.17,483.2 2048.34,490.9Z"/><path fill="#f7e51f" d="M326.29,475.3 341.95,475.3 341.95,491.6 336.99,491.6 336.99,487.8 329.89,487.8 329.89,491.6 326.29,491.6ZM341.95,475.3 357.6,475.3 357.6,491.6 352.65,491.6 352.65,487.8 345.55,487.8 345.55,491.6 341.95,491.6ZM373.26,475.3 388.91,475.3 388.91,491.6 383.96,491.6 383.96,487.8 376.86,487.8 376.86,491.6 373.26,491.6ZM388.91,475.3 404.57,475.3 404.57,491.6 399.61,491.6 399.61,487.8 392.51,487.8 392.51,491.6 388.91,491.6ZM435.88,475.3 451.53,475.3 451.53,491.6 446.58,491.6 446.58,487.8 439.48,487.8 439.48,491.6 435.88,491.6ZM467.19,475.3 482.84,475.3 482.84,491.6 477.89,491.6 477.89,487.8 470.79,487.8 470.79,491.6 467.19,491.6ZM514.15,475.3 529.81,475.3 529.81,491.6 524.86,491.6 524.86,487.8 517.75,487.8 517.75,491.6 514.15,491.6ZM592.43,475.3 608.08,475.3 608.08,491.6 603.13,491.6 603.13,487.8 596.03,487.8 596.03,491.6 592.43,491.6ZM623.74,475.3 639.39,475.3 639.39,491.6 634.44,491.6 634.44,487.8 627.34,487.8 627.34,491.6 623.74,491.6ZM733.32,475.3 748.98,475.3 748.98,491.6 744.02,491.6 744.02,487.8 736.92,487.8 736.92,491.6 733.32,491.6ZM811.6,475.3 827.25,475.3 827.25,491.6 822.3,491.6 822.3,487.8 815.2,487.8 815.2,491.6 811.6,491.6ZM905.53,475.3 921.18,475.3 921.18,491.6 916.23,491.6 916.23,487.8 909.13,487.8 909.13,491.6 905.53,491.6ZM1046.42,475.3 1062.08,475.3 1062.08,491.6 1057.12,491.6 1057.12,487.8 1050.02,487.8 1050.02,491.6 1046.42,491.6ZM1093.39,475.3 1109.05,475.3 1109.05,491.6 1104.09,491.6 1104.09,487.8 1096.99,487.8 1096.99,491.6 1093.39,491.6ZM1156.01,475.3 1171.66,475.3 1171.66,491.6 1166.71,491.6 1166.71,487.8 1159.61,487.8 1159.61,491.6 1156.01,491.6ZM1281.25,475.3 1296.9,475.3 1296.9,491.6 1291.95,491.6 1291.95,487.8 1284.85,487.8 1284.85,491.6 1281.25,491.6ZM1312.56,475.3 1328.21,475.3 1328.21,491.6 1323.26,491.6 1323.26,487.8 1316.16,487.8 1316.16,491.6 1312.56,491.6ZM1390.84,475.3 1406.49,475.3 1406.49,491.6 1401.54,491.6 1401.54,487.8 1394.43,487.8 1394.43,491.6 1390.84,491.6ZM1469.11,475.3 1484.77,475.3 1484.77,491.6 1479.81,491.6 1479.81,487.8 1472.71,487.8 1472.71,491.6 1469.11,491.6ZM1484.77,475.3 1500.42,475.3 1500.42,491.6 1495.47,491.6 1495.47,487.8 1488.37,487.8 1488.37,491.6 1484.77,491.6ZM1531.73,475.3 1547.38,475.3 1547.38,491.6 1542.43,491.6 1542.43,487.8 1535.33,487.8 1535.33,491.6 1531.73,491.6ZM1703.93,475.3 1719.59,475.3 1719.59,491.6 1714.63,491.6 1714.63,487.8 1707.53,487.8 1707.53,491.6 1703.93,491.6Z"/></g>
<line x1="185.2" y1="474.65" x2="2094.81" y2="474.65" stroke="#000" stroke-width="3.7" stroke-linecap="round"/>
<path d="M75.82,569.5 60.16,569.5 60.16,553.5 67.99,545.5 75.82,553.5Z" fill="#ed202b" stroke="#58595b" stroke-width="1.5" opacity="0.3"/>
<path d="M91.47,569.5 75.82,569.5 75.82,553.2 83.64,560.9 91.47,553.2Z" fill="#16ae4b" stroke="#58595b" stroke-width="1.5" opacity="0.3"/>
<path d="M107.13,569.5 91.47,569.5 91.47,552.5 96.43,552.5 96.43,556.3 103.53,556.3 103.53,552.5 107.13,552.5Z" fill="#f7e51f" stroke="#58595b" stroke-width="1.5" opacity="0.3"/>
<path d="M122.78,569.5 107.13,569.5 107.13,553.2 114.95,560.9 122.78,553.2Z" fill="#16ae4b" stroke="#58595b" stroke-width="1.5" opacity="0.3"/>
<path d="M138.44,569.5 122.78,569.5 122.78,552.5 127.73,552.5 127.73,556.3 134.84,556.3 134.84,552.5 138.44,552.5Z" fill="#f7e51f" stroke="#58595b" stroke-width="1.5" opacity="0.55"/>
<path d="M154.09,569.5 138.44,569.5 138.44,553.5 146.26,545.5 154.09,553.5Z" fill="#ed202b" stroke="#58595b" stroke-width="1.5" opacity="0.5"/>
<path d="M169.75,569.5 154.09,569.5 154.09,553.5 161.92,545.5 169.75,553.5Z" fill="#ed202b" stroke="#58595b" stroke-width="1.5" opacity="0.5"/>
<path d="M185.4,569.5 169.75,569.5 169.75,552.5 174.7,552.5 174.7,556.3 181.8,556.3 181.8,552.5 185.4,552.5Z" fill="#f7e51f" stroke="#58595b" stroke-width="1.5" opacity="0.55"/>
<path d="M2110.97,569.5 2095.31,569.5 2095.31,553.2 2103.14,560.9 2110.97,553.2Z" fill="#16ae4b" stroke="#58595b" stroke-width="1.5" opacity="0.5"/>
<path d="M2126.62,569.5 2110.96,569.5 2110.96,552.5 2115.92,552.5 2115.92,556.3 2123.02,556.3 2123.02,552.5 2126.62,552.5Z" fill="#f7e51f" stroke="#58595b" stroke-width="1.5" opacity="0.5"/>
<path d="M2142.28,569.5 2126.62,569.5 2126.62,553.2 2134.45,560.9 2142.28,553.2Z" fill="#16ae4b" stroke="#58595b" stroke-width="1.5" opacity="0.5"/>
<path d="M2157.93,569.5 2142.28,569.5 2142.28,553.2 2150.1,560.9 2157.93,553.2Z" fill="#16ae4b" stroke="#231f20" stroke-width="1.3"/>
<path d="M2173.59,569.5 2157.93,569.5 2157.93,553.2 2165.76,560.9 2173.59,553.2Z" fill="#16ae4b" stroke="#58595b" stroke-width="1.5" opacity="0.3"/>
<path d="M2189.24,569.5 2173.59,569.5 2173.59,553.6 2178.34,553.6 2178.34,550.2 2182.64,550.2 2182.64,553.6 2189.24,553.6Z" fill="#35359b" stroke="#58595b" stroke-width="1.5" opacity="0.3"/>
<path d="M2204.89,569.5 2189.24,569.5 2189.24,553.2 2197.07,560.9 2204.89,553.2Z" fill="#16ae4b" stroke="#58595b" stroke-width="1.5" opacity="0.3"/>
<path d="M2220.55,569.5 2204.89,569.5 2204.89,553.2 2212.72,560.9 2220.55,553.2Z" fill="#16ae4b" stroke="#58595b" stroke-width="1.5" opacity="0.3"/>
<g stroke="#231f20" stroke-width="1.2" stroke-linejoin="miter"><path fill="#16ae4b" d="M201.06,568.8 185.4,568.8 185.4,553.2 193.23,560.9 201.06,553.2ZM216.71,568.8 201.06,568.8 201.06,553.2 208.88,560.9 216.71,553.2ZM294.98,568.8 279.33,568.8 279.33,553.2 287.16,560.9 294.98,553.2ZM310.64,568.8 294.99,568.8 294.99,553.2 302.81,560.9 310.64,553.2ZM373.26,568.8 357.61,568.8 357.61,553.2 365.43,560.9 373.26,553.2ZM514.15,568.8 498.5,568.8 498.5,553.2 506.33,560.9 514.15,553.2ZM545.46,568.8 529.81,568.8 529.81,553.2 537.64,560.9 545.46,553.2ZM561.12,568.8 545.47,568.8 545.47,553.2 553.29,560.9 561.12,553.2ZM592.43,568.8 576.77,568.8 576.77,553.2 584.6,560.9 592.43,553.2ZM686.36,568.8 670.71,568.8 670.71,553.2 678.53,560.9 686.36,553.2ZM733.32,568.8 717.67,568.8 717.67,553.2 725.5,560.9 733.32,553.2ZM764.63,568.8 748.98,568.8 748.98,553.2 756.81,560.9 764.63,553.2ZM795.94,568.8 780.29,568.8 780.29,553.2 788.12,560.9 795.94,553.2ZM842.91,568.8 827.25,568.8 827.25,553.2 835.08,560.9 842.91,553.2ZM858.56,568.8 842.91,568.8 842.91,553.2 850.74,560.9 858.56,553.2ZM1015.11,568.8 999.46,568.8 999.46,553.2 1007.29,560.9 1015.11,553.2ZM1030.77,568.8 1015.12,568.8 1015.12,553.2 1022.94,560.9 1030.77,553.2ZM1156.01,568.8 1140.36,568.8 1140.36,553.2 1148.18,560.9 1156.01,553.2ZM1312.56,568.8 1296.9,568.8 1296.9,553.2 1304.73,560.9 1312.56,553.2ZM1375.18,568.8 1359.53,568.8 1359.53,553.2 1367.35,560.9 1375.18,553.2ZM1453.45,568.8 1437.8,568.8 1437.8,553.2 1445.63,560.9 1453.45,553.2ZM1531.73,568.8 1516.08,568.8 1516.08,553.2 1523.9,560.9 1531.73,553.2ZM1610.01,568.8 1594.35,568.8 1594.35,553.2 1602.18,560.9 1610.01,553.2ZM1625.66,568.8 1610.01,568.8 1610.01,553.2 1617.83,560.9 1625.66,553.2ZM1656.97,568.8 1641.32,568.8 1641.32,553.2 1649.14,560.9 1656.97,553.2ZM1672.62,568.8 1656.97,568.8 1656.97,553.2 1664.8,560.9 1672.62,553.2ZM1703.93,568.8 1688.28,568.8 1688.28,553.2 1696.11,560.9 1703.93,553.2ZM1735.24,568.8 1719.59,568.8 1719.59,553.2 1727.42,560.9 1735.24,553.2ZM1782.21,568.8 1766.56,568.8 1766.56,553.2 1774.38,560.9 1782.21,553.2ZM1860.48,568.8 1844.83,568.8 1844.83,553.2 1852.66,560.9 1860.48,553.2ZM1923.11,568.8 1907.45,568.8 1907.45,553.2 1915.28,560.9 1923.11,553.2ZM2001.38,568.8 1985.72,568.8 1985.72,553.2 1993.55,560.9 2001.38,553.2ZM2079.66,568.8 2064,568.8 2064,553.2 2071.83,560.9 2079.66,553.2Z"/><path fill="#f7e51f" d="M232.37,568.8 216.71,568.8 216.71,552.5 221.67,552.5 221.67,556.3 228.77,556.3 228.77,552.5 232.37,552.5ZM435.88,568.8 420.23,568.8 420.23,552.5 425.18,552.5 425.18,556.3 432.28,556.3 432.28,552.5 435.88,552.5ZM576.77,568.8 561.12,568.8 561.12,552.5 566.07,552.5 566.07,556.3 573.17,556.3 573.17,552.5 576.77,552.5ZM623.74,568.8 608.09,568.8 608.09,552.5 613.04,552.5 613.04,556.3 620.14,556.3 620.14,552.5 623.74,552.5ZM780.29,568.8 764.63,568.8 764.63,552.5 769.59,552.5 769.59,556.3 776.69,556.3 776.69,552.5 780.29,552.5ZM811.6,568.8 795.94,568.8 795.94,552.5 800.9,552.5 800.9,556.3 808,556.3 808,552.5 811.6,552.5ZM874.22,568.8 858.56,568.8 858.56,552.5 863.52,552.5 863.52,556.3 870.62,556.3 870.62,552.5 874.22,552.5ZM889.87,568.8 874.22,568.8 874.22,552.5 879.17,552.5 879.17,556.3 886.27,556.3 886.27,552.5 889.87,552.5ZM905.53,568.8 889.88,568.8 889.88,552.5 894.83,552.5 894.83,556.3 901.93,556.3 901.93,552.5 905.53,552.5ZM952.49,568.8 936.84,568.8 936.84,552.5 941.79,552.5 941.79,556.3 948.89,556.3 948.89,552.5 952.49,552.5ZM968.15,568.8 952.49,568.8 952.49,552.5 957.45,552.5 957.45,556.3 964.55,556.3 964.55,552.5 968.15,552.5ZM999.46,568.8 983.8,568.8 983.8,552.5 988.76,552.5 988.76,556.3 995.86,556.3 995.86,552.5 999.46,552.5ZM1046.42,568.8 1030.77,568.8 1030.77,552.5 1035.72,552.5 1035.72,556.3 1042.83,556.3 1042.83,552.5 1046.42,552.5ZM1093.39,568.8 1077.73,568.8 1077.73,552.5 1082.69,552.5 1082.69,556.3 1089.79,556.3 1089.79,552.5 1093.39,552.5ZM1249.94,568.8 1234.29,568.8 1234.29,552.5 1239.24,552.5 1239.24,556.3 1246.34,556.3 1246.34,552.5 1249.94,552.5ZM1281.25,568.8 1265.6,568.8 1265.6,552.5 1270.55,552.5 1270.55,556.3 1277.65,556.3 1277.65,552.5 1281.25,552.5ZM1469.11,568.8 1453.45,568.8 1453.45,552.5 1458.41,552.5 1458.41,556.3 1465.51,556.3 1465.51,552.5 1469.11,552.5ZM1578.69,568.8 1563.04,568.8 1563.04,552.5 1567.99,552.5 1567.99,556.3 1575.1,556.3 1575.1,552.5 1578.69,552.5ZM1688.28,568.8 1672.62,568.8 1672.62,552.5 1677.58,552.5 1677.58,556.3 1684.68,556.3 1684.68,552.5 1688.28,552.5ZM1750.9,568.8 1735.25,568.8 1735.25,552.5 1740.2,552.5 1740.2,556.3 1747.3,556.3 1747.3,552.5 1750.9,552.5ZM1797.87,568.8 1782.21,568.8 1782.21,552.5 1787.16,552.5 1787.16,556.3 1794.27,556.3 1794.27,552.5 1797.87,552.5ZM1813.52,568.8 1797.87,568.8 1797.87,552.5 1802.82,552.5 1802.82,556.3 1809.92,556.3 1809.92,552.5 1813.52,552.5ZM1844.83,568.8 1829.17,568.8 1829.17,552.5 1834.13,552.5 1834.13,556.3 1841.23,556.3 1841.23,552.5 1844.83,552.5ZM1876.14,568.8 1860.49,568.8 1860.49,552.5 1865.44,552.5 1865.44,556.3 1872.54,556.3 1872.54,552.5 1876.14,552.5ZM1938.76,568.8 1923.11,568.8 1923.11,552.5 1928.06,552.5 1928.06,556.3 1935.16,556.3 1935.16,552.5 1938.76,552.5ZM1954.41,568.8 1938.76,568.8 1938.76,552.5 1943.71,552.5 1943.71,556.3 1950.82,556.3 1950.82,552.5 1954.41,552.5ZM1985.72,568.8 1970.07,568.8 1970.07,552.5 1975.02,552.5 1975.02,556.3 1982.12,556.3 1982.12,552.5 1985.72,552.5ZM2032.69,568.8 2017.04,568.8 2017.04,552.5 2021.99,552.5 2021.99,556.3 2029.09,556.3 2029.09,552.5 2032.69,552.5ZM2095.31,568.8 2079.65,568.8 2079.65,552.5 2084.61,552.5 2084.61,556.3 2091.71,556.3 2091.71,552.5 2095.31,552.5Z"/><path fill="#ed202b" d="M248.02,568.8 232.37,568.8 232.37,553.5 240.19,545.5 248.02,553.5ZM263.68,568.8 248.02,568.8 248.02,553.5 255.85,545.5 263.68,553.5ZM279.33,568.8 263.68,568.8 263.68,553.5 271.5,545.5 279.33,553.5ZM326.29,568.8 310.64,568.8 310.64,553.5 318.47,545.5 326.29,553.5ZM420.22,568.8 404.57,568.8 404.57,553.5 412.4,545.5 420.22,553.5ZM467.19,568.8 451.53,568.8 451.53,553.5 459.36,545.5 467.19,553.5ZM498.5,568.8 482.85,568.8 482.85,553.5 490.67,545.5 498.5,553.5ZM655.05,568.8 639.39,568.8 639.39,553.5 647.22,545.5 655.05,553.5ZM670.7,568.8 655.05,568.8 655.05,553.5 662.88,545.5 670.7,553.5ZM702.01,568.8 686.36,568.8 686.36,553.5 694.19,545.5 702.01,553.5ZM717.67,568.8 702.01,568.8 702.01,553.5 709.84,545.5 717.67,553.5ZM936.84,568.8 921.18,568.8 921.18,553.5 929.01,545.5 936.84,553.5ZM983.8,568.8 968.15,568.8 968.15,553.5 975.98,545.5 983.8,553.5ZM1077.73,568.8 1062.08,568.8 1062.08,553.5 1069.91,545.5 1077.73,553.5ZM1124.7,568.8 1109.05,568.8 1109.05,553.5 1116.87,545.5 1124.7,553.5ZM1140.36,568.8 1124.7,568.8 1124.7,553.5 1132.53,545.5 1140.36,553.5ZM1187.32,568.8 1171.66,568.8 1171.66,553.5 1179.49,545.5 1187.32,553.5ZM1202.97,568.8 1187.32,568.8 1187.32,553.5 1195.15,545.5 1202.97,553.5ZM1218.63,568.8 1202.97,568.8 1202.97,553.5 1210.8,545.5 1218.63,553.5ZM1234.29,568.8 1218.63,568.8 1218.63,553.5 1226.46,545.5 1234.29,553.5ZM1265.6,568.8 1249.94,568.8 1249.94,553.5 1257.77,545.5 1265.6,553.5ZM1343.87,568.8 1328.22,568.8 1328.22,553.5 1336.04,545.5 1343.87,553.5ZM1359.53,568.8 1343.87,568.8 1343.87,553.5 1351.7,545.5 1359.53,553.5ZM1390.84,568.8 1375.18,568.8 1375.18,553.5 1383.01,545.5 1390.84,553.5ZM1422.14,568.8 1406.49,568.8 1406.49,553.5 1414.32,545.5 1422.14,553.5ZM1437.8,568.8 1422.14,568.8 1422.14,553.5 1429.97,545.5 1437.8,553.5ZM1516.08,568.8 1500.42,568.8 1500.42,553.5 1508.25,545.5 1516.08,553.5ZM1563.04,568.8 1547.38,568.8 1547.38,553.5 1555.21,545.5 1563.04,553.5ZM1594.35,568.8 1578.69,568.8 1578.69,553.5 1586.52,545.5 1594.35,553.5ZM1641.32,568.8 1625.66,568.8 1625.66,553.5 1633.49,545.5 1641.32,553.5ZM1766.56,568.8 1750.9,568.8 1750.9,553.5 1758.73,545.5 1766.56,553.5ZM1829.17,568.8 1813.52,568.8 1813.52,553.5 1821.35,545.5 1829.17,553.5ZM1891.8,568.8 1876.14,568.8 1876.14,553.5 1883.97,545.5 1891.8,553.5ZM1907.45,568.8 1891.8,568.8 1891.8,553.5 1899.62,545.5 1907.45,553.5ZM1970.07,568.8 1954.41,568.8 1954.41,553.5 1962.24,545.5 1970.07,553.5ZM2017.04,568.8 2001.38,568.8 2001.38,553.5 2009.21,545.5 2017.04,553.5ZM2048.35,568.8 2032.69,568.8 2032.69,553.5 2040.52,545.5 2048.35,553.5ZM2064,568.8 2048.34,568.8 2048.34,553.5 2056.17,545.5 2064,553.5Z"/><path fill="#35359b" d="M341.95,568.8 326.29,568.8 326.29,553.6 331.05,553.6 331.05,550.2 335.35,550.2 335.35,553.6 341.95,553.6ZM357.6,568.8 341.95,568.8 341.95,553.6 346.7,553.6 346.7,550.2 351,550.2 351,553.6 357.6,553.6ZM388.91,568.8 373.26,568.8 373.26,553.6 378.01,553.6 378.01,550.2 382.31,550.2 382.31,553.6 388.91,553.6ZM404.57,568.8 388.91,568.8 388.91,553.6 393.67,553.6 393.67,550.2 397.97,550.2 397.97,553.6 404.57,553.6ZM451.53,568.8 435.88,568.8 435.88,553.6 440.63,553.6 440.63,550.2 444.93,550.2 444.93,553.6 451.53,553.6ZM482.84,568.8 467.19,568.8 467.19,553.6 471.94,553.6 471.94,550.2 476.24,550.2 476.24,553.6 482.84,553.6ZM529.81,568.8 514.15,568.8 514.15,553.6 518.91,553.6 518.91,550.2 523.21,550.2 523.21,553.6 529.81,553.6ZM608.08,568.8 592.43,568.8 592.43,553.6 597.18,553.6 597.18,550.2 601.48,550.2 601.48,553.6 608.08,553.6ZM639.39,568.8 623.74,568.8 623.74,553.6 628.5,553.6 628.5,550.2 632.79,550.2 632.79,553.6 639.39,553.6ZM748.98,568.8 733.32,568.8 733.32,553.6 738.08,553.6 738.08,550.2 742.38,550.2 742.38,553.6 748.98,553.6ZM827.25,568.8 811.6,568.8 811.6,553.6 816.35,553.6 816.35,550.2 820.65,550.2 820.65,553.6 827.25,553.6ZM921.18,568.8 905.53,568.8 905.53,553.6 910.28,553.6 910.28,550.2 914.58,550.2 914.58,553.6 921.18,553.6ZM1062.08,568.8 1046.42,568.8 1046.42,553.6 1051.18,553.6 1051.18,550.2 1055.48,550.2 1055.48,553.6 1062.08,553.6ZM1109.05,568.8 1093.39,568.8 1093.39,553.6 1098.14,553.6 1098.14,550.2 1102.45,550.2 1102.45,553.6 1109.05,553.6ZM1171.66,568.8 1156.01,568.8 1156.01,553.6 1160.76,553.6 1160.76,550.2 1165.07,550.2 1165.07,553.6 1171.66,553.6ZM1296.9,568.8 1281.25,568.8 1281.25,553.6 1286,553.6 1286,550.2 1290.31,550.2 1290.31,553.6 1296.9,553.6ZM1328.21,568.8 1312.56,568.8 1312.56,553.6 1317.31,553.6 1317.31,550.2 1321.62,550.2 1321.62,553.6 1328.21,553.6ZM1406.49,568.8 1390.84,568.8 1390.84,553.6 1395.59,553.6 1395.59,550.2 1399.89,550.2 1399.89,553.6 1406.49,553.6ZM1484.77,568.8 1469.11,568.8 1469.11,553.6 1473.87,553.6 1473.87,550.2 1478.17,550.2 1478.17,553.6 1484.77,553.6ZM1500.42,568.8 1484.77,568.8 1484.77,553.6 1489.52,553.6 1489.52,550.2 1493.82,550.2 1493.82,553.6 1500.42,553.6ZM1547.38,568.8 1531.73,568.8 1531.73,553.6 1536.48,553.6 1536.48,550.2 1540.79,550.2 1540.79,553.6 1547.38,553.6ZM1719.59,568.8 1703.93,568.8 1703.93,553.6 1708.69,553.6 1708.69,550.2 1712.99,550.2 1712.99,553.6 1719.59,553.6Z"/></g>
<line x1="185.2" y1="569.45" x2="2094.81" y2="569.45" stroke="#000" stroke-width="3.7" stroke-linecap="round"/>
<g stroke="#231f20" stroke-width="1.2" stroke-linejoin="miter"><path fill="#ed202b" d="M748.98,533.85 764.63,533.85 764.63,549.45 756.81,557.45 748.98,549.45ZM780.29,533.85 795.94,533.85 795.94,549.45 788.12,557.45 780.29,549.45ZM827.25,533.85 842.91,533.85 842.91,549.45 835.08,557.45 827.25,549.45ZM842.91,533.85 858.56,533.85 858.56,549.45 850.74,557.45 842.91,549.45ZM999.46,533.85 1015.11,533.85 1015.11,549.45 1007.29,557.45 999.46,549.45ZM1015.11,533.85 1030.77,533.85 1030.77,549.45 1022.94,557.45 1015.11,549.45Z"/><path fill="#35359b" d="M764.63,533.85 780.29,533.85 780.29,549.35 775.53,549.35 775.53,552.75 771.24,552.75 771.24,549.35 764.63,549.35ZM795.94,533.85 811.6,533.85 811.6,549.35 806.84,549.35 806.84,552.75 802.54,552.75 802.54,549.35 795.94,549.35ZM858.56,533.85 874.22,533.85 874.22,549.35 869.46,549.35 869.46,552.75 865.16,552.75 865.16,549.35 858.56,549.35ZM874.22,533.85 889.87,533.85 889.87,549.35 885.12,549.35 885.12,552.75 880.82,552.75 880.82,549.35 874.22,549.35ZM889.88,533.85 905.53,533.85 905.53,549.35 900.77,549.35 900.77,552.75 896.48,552.75 896.48,549.35 889.88,549.35ZM936.84,533.85 952.49,533.85 952.49,549.35 947.74,549.35 947.74,552.75 943.44,552.75 943.44,549.35 936.84,549.35ZM952.49,533.85 968.15,533.85 968.15,549.35 963.39,549.35 963.39,552.75 959.09,552.75 959.09,549.35 952.49,549.35ZM983.8,533.85 999.46,533.85 999.46,549.35 994.7,549.35 994.7,552.75 990.4,552.75 990.4,549.35 983.8,549.35ZM1030.77,533.85 1046.42,533.85 1046.42,549.35 1041.67,549.35 1041.67,552.75 1037.37,552.75 1037.37,549.35 1030.77,549.35Z"/><path fill="#f7e51f" d="M811.6,533.85 827.25,533.85 827.25,550.45 822.3,550.45 822.3,546.65 815.2,546.65 815.2,550.45 811.6,550.45ZM905.53,533.85 921.18,533.85 921.18,550.45 916.23,550.45 916.23,546.65 909.13,546.65 909.13,550.45 905.53,550.45ZM1046.42,533.85 1062.08,533.85 1062.08,550.45 1057.12,550.45 1057.12,546.65 1050.02,546.65 1050.02,550.45 1046.42,550.45Z"/><path fill="#16ae4b" d="M921.18,533.85 936.84,533.85 936.84,549.75 929.01,542.05 921.18,549.75ZM968.15,533.85 983.8,533.85 983.8,549.75 975.98,542.05 968.15,549.75ZM1062.08,533.85 1077.73,533.85 1077.73,549.75 1069.91,542.05 1062.08,549.75Z"/></g>
<line x1="748.68" y1="533.6" x2="1078.03" y2="533.6" stroke="#000" stroke-width="2" stroke-linecap="butt"/>
<g stroke="#231f20" stroke-width="1.2" stroke-linejoin="miter"><path fill="#ed202b" d="M279.33,533.85 294.98,533.85 294.98,549.45 287.16,557.45 279.33,549.45ZM294.99,533.85 310.64,533.85 310.64,549.45 302.81,557.45 294.99,549.45ZM357.61,533.85 373.26,533.85 373.26,549.45 365.43,557.45 357.61,549.45ZM498.5,533.85 514.15,533.85 514.15,549.45 506.33,557.45 498.5,549.45ZM529.81,533.85 545.46,533.85 545.46,549.45 537.64,557.45 529.81,549.45ZM545.47,533.85 561.12,533.85 561.12,549.45 553.29,557.45 545.47,549.45ZM576.77,533.85 592.43,533.85 592.43,549.45 584.6,557.45 576.77,549.45Z"/><path fill="#16ae4b" d="M310.64,533.85 326.29,533.85 326.29,549.75 318.47,542.05 310.64,549.75ZM404.57,533.85 420.22,533.85 420.22,549.75 412.4,542.05 404.57,549.75ZM451.53,533.85 467.19,533.85 467.19,549.75 459.36,542.05 451.53,549.75ZM482.85,533.85 498.5,533.85 498.5,549.75 490.67,542.05 482.85,549.75Z"/><path fill="#f7e51f" d="M326.29,533.85 341.95,533.85 341.95,550.45 336.99,550.45 336.99,546.65 329.89,546.65 329.89,550.45 326.29,550.45ZM341.95,533.85 357.6,533.85 357.6,550.45 352.65,550.45 352.65,546.65 345.55,546.65 345.55,550.45 341.95,550.45ZM373.26,533.85 388.91,533.85 388.91,550.45 383.96,550.45 383.96,546.65 376.86,546.65 376.86,550.45 373.26,550.45ZM388.91,533.85 404.57,533.85 404.57,550.45 399.61,550.45 399.61,546.65 392.51,546.65 392.51,550.45 388.91,550.45ZM435.88,533.85 451.53,533.85 451.53,550.45 446.58,550.45 446.58,546.65 439.48,546.65 439.48,550.45 435.88,550.45ZM467.19,533.85 482.84,533.85 482.84,550.45 477.89,550.45 477.89,546.65 470.79,546.65 470.79,550.45 467.19,550.45ZM514.15,533.85 529.81,533.85 529.81,550.45 524.86,550.45 524.86,546.65 517.75,546.65 517.75,550.45 514.15,550.45ZM592.43,533.85 608.08,533.85 608.08,550.45 603.13,550.45 603.13,546.65 596.03,546.65 596.03,550.45 592.43,550.45Z"/><path fill="#35359b" d="M420.23,533.85 435.88,533.85 435.88,549.35 431.12,549.35 431.12,552.75 426.83,552.75 426.83,549.35 420.23,549.35ZM561.12,533.85 576.77,533.85 576.77,549.35 572.02,549.35 572.02,552.75 567.72,552.75 567.72,549.35 561.12,549.35ZM608.09,533.85 623.74,533.85 623.74,549.35 618.99,549.35 618.99,552.75 614.69,552.75 614.69,549.35 608.09,549.35Z"/></g>
<line x1="279.03" y1="533.6" x2="624.04" y2="533.6" stroke="#000" stroke-width="2" stroke-linecap="butt"/>
<g stroke="#231f20" stroke-width="1.2" stroke-linejoin="miter"><path fill="#f7e51f" d="M1688.28,511.55 1672.62,511.55 1672.62,494.95 1677.58,494.95 1677.58,498.75 1684.68,498.75 1684.68,494.95 1688.28,494.95ZM1750.9,511.55 1735.25,511.55 1735.25,494.95 1740.2,494.95 1740.2,498.75 1747.3,498.75 1747.3,494.95 1750.9,494.95ZM1797.87,511.55 1782.21,511.55 1782.21,494.95 1787.16,494.95 1787.16,498.75 1794.27,498.75 1794.27,494.95 1797.87,494.95ZM1813.52,511.55 1797.87,511.55 1797.87,494.95 1802.82,494.95 1802.82,498.75 1809.92,498.75 1809.92,494.95 1813.52,494.95ZM1844.83,511.55 1829.17,511.55 1829.17,494.95 1834.13,494.95 1834.13,498.75 1841.23,498.75 1841.23,494.95 1844.83,494.95ZM1876.14,511.55 1860.49,511.55 1860.49,494.95 1865.44,494.95 1865.44,498.75 1872.54,498.75 1872.54,494.95 1876.14,494.95ZM1938.76,511.55 1923.11,511.55 1923.11,494.95 1928.06,494.95 1928.06,498.75 1935.16,498.75 1935.16,494.95 1938.76,494.95ZM1954.41,511.55 1938.76,511.55 1938.76,494.95 1943.71,494.95 1943.71,498.75 1950.82,498.75 1950.82,494.95 1954.41,494.95ZM1985.72,511.55 1970.07,511.55 1970.07,494.95 1975.02,494.95 1975.02,498.75 1982.12,498.75 1982.12,494.95 1985.72,494.95ZM2032.69,511.55 2017.04,511.55 2017.04,494.95 2021.99,494.95 2021.99,498.75 2029.09,498.75 2029.09,494.95 2032.69,494.95Z"/><path fill="#16ae4b" d="M1703.93,511.55 1688.28,511.55 1688.28,495.65 1696.11,503.35 1703.93,495.65ZM1735.24,511.55 1719.59,511.55 1719.59,495.65 1727.42,503.35 1735.24,495.65ZM1782.21,511.55 1766.56,511.55 1766.56,495.65 1774.38,503.35 1782.21,495.65ZM1860.48,511.55 1844.83,511.55 1844.83,495.65 1852.66,503.35 1860.48,495.65ZM1923.11,511.55 1907.45,511.55 1907.45,495.65 1915.28,503.35 1923.11,495.65ZM2001.38,511.55 1985.72,511.55 1985.72,495.65 1993.55,503.35 2001.38,495.65Z"/><path fill="#35359b" d="M1719.59,511.55 1703.93,511.55 1703.93,496.05 1708.69,496.05 1708.69,492.65 1712.99,492.65 1712.99,496.05 1719.59,496.05Z"/><path fill="#ed202b" d="M1766.56,511.55 1750.9,511.55 1750.9,495.95 1758.73,487.95 1766.56,495.95ZM1829.17,511.55 1813.52,511.55 1813.52,495.95 1821.35,487.95 1829.17,495.95ZM1891.8,511.55 1876.14,511.55 1876.14,495.95 1883.97,487.95 1891.8,495.95ZM1907.45,511.55 1891.8,511.55 1891.8,495.95 1899.62,487.95 1907.45,495.95ZM1970.07,511.55 1954.41,511.55 1954.41,495.95 1962.24,487.95 1970.07,495.95ZM2017.04,511.55 2001.38,511.55 2001.38,495.95 2009.21,487.95 2017.04,495.95Z"/></g>
<line x1="1672.33" y1="511.9" x2="2032.99" y2="511.9" stroke="#000" stroke-width="2.2" stroke-linecap="butt"/>
<path d="M553.15,512.2 H605.25 Q614.3,512.2 614.3,521.25 V526.27 Q614.3,531 609.57,531 Q579.2,527.6 548.83,531 Q544.1,531 544.1,526.27 V521.25 Q544.1,512.2 553.15,512.2 Z" fill="none" stroke="#6a6aa8" stroke-opacity=".5" stroke-width="2.6"/>
<path d="M553.3,512.5 H605.1 Q614,512.5 614,521.4 V526.06 Q614,530.7 609.36,530.7 Q579.2,527.3 549.04,530.7 Q544.4,530.7 544.4,526.06 V521.4 Q544.4,512.5 553.3,512.5 Z" fill="url(#lobe)" stroke="#5a0a58" stroke-opacity=".85" stroke-width="1.1"/>
<ellipse cx="562.64" cy="519.54" rx="21.6" ry="7.42" fill="url(#shine)" transform="rotate(-5 562.64 519.54)"/>
<path d="M554.75,591.2 H606.25 Q615.3,591.2 615.3,582.15 V577.13 Q615.3,572.4 610.57,572.4 Q580.5,575.8 550.43,572.4 Q545.7,572.4 545.7,577.13 V582.15 Q545.7,591.2 554.75,591.2 Z" fill="none" stroke="#6a6aa8" stroke-opacity=".5" stroke-width="2.6"/>
<path d="M554.9,590.9 H606.1 Q615,590.9 615,582 V577.34 Q615,572.7 610.36,572.7 Q580.5,576.1 550.64,572.7 Q546,572.7 546,577.34 V582 Q546,590.9 554.9,590.9 Z" fill="url(#lobeB)" stroke="#5a0a58" stroke-opacity=".85" stroke-width="1.1"/>
<ellipse cx="564.08" cy="580.15" rx="21.42" ry="7.42" fill="url(#shine)" transform="rotate(-5 564.08 580.15)"/>
<path d="M1668.35,452.5 H1721.55 Q1730.6,452.5 1730.6,461.55 V467.27 Q1730.6,472 1725.87,472 Q1694.95,468.6 1664.03,472 Q1659.3,472 1659.3,467.27 V461.55 Q1659.3,452.5 1668.35,452.5 Z" fill="none" stroke="#6a6aa8" stroke-opacity=".5" stroke-width="2.6"/>
<path d="M1668.5,452.8 H1721.4 Q1730.3,452.8 1730.3,461.7 V467.06 Q1730.3,471.7 1725.66,471.7 Q1694.95,468.3 1664.24,471.7 Q1659.6,471.7 1659.6,467.06 V461.7 Q1659.6,452.8 1668.5,452.8 Z" fill="url(#lobe)" stroke="#5a0a58" stroke-opacity=".85" stroke-width="1.1"/>
<ellipse cx="1678.14" cy="460.12" rx="21.93" ry="7.67" fill="url(#shine)" transform="rotate(-5 1678.14 460.12)"/>
<path d="M1669.75,532.2 H1722.95 Q1732,532.2 1732,523.15 V518.33 Q1732,513.6 1727.27,513.6 Q1696.35,517 1665.43,513.6 Q1660.7,513.6 1660.7,518.33 V523.15 Q1660.7,532.2 1669.75,532.2 Z" fill="none" stroke="#6a6aa8" stroke-opacity=".5" stroke-width="2.6"/>
<path d="M1669.9,531.9 H1722.8 Q1731.7,531.9 1731.7,523 V518.54 Q1731.7,513.9 1727.06,513.9 Q1696.35,517.3 1665.64,513.9 Q1661,513.9 1661,518.54 V523 Q1661,531.9 1669.9,531.9 Z" fill="url(#lobeB)" stroke="#5a0a58" stroke-opacity=".85" stroke-width="1.1"/>
<ellipse cx="1679.54" cy="521.27" rx="21.93" ry="7.34" fill="url(#shine)" transform="rotate(-5 1679.54 521.27)"/>
<circle cx="755.6" cy="572.1" r="34" fill="url(#gWhite)"/>
<circle cx="757.8" cy="573.3" r="24" fill="url(#gBlack)"/>
<circle cx="756.6" cy="571.1" r="12.7" fill="#000"/>
<circle cx="1070.7" cy="562.3" r="32" fill="url(#gGreen)"/>
<circle cx="1070.7" cy="562.3" r="11.9" fill="#55d400" stroke="#000" stroke-width="1.6"/>
<path d="M618.5,582.4H645" stroke="#000" stroke-width="2.4" fill="none"/>
<path d="M644.6,573.4V591.6L660.6,582.4Z" fill="#ff2a7f" stroke="#000" stroke-width="2.4" stroke-linejoin="miter"/>
<path d="M1651.5,525.2H1626" stroke="#000" stroke-width="2.4" fill="none"/>
<path d="M1626.6,516.1V534.3L1610.6,525.2Z" fill="#ff2a7f" stroke="#000" stroke-width="2.4" stroke-linejoin="miter"/>
</g>
<g opacity=".15" stroke="#231f20" stroke-width="1.3">
<path fill="#ed202b" d="M57.81,286.01 61.06,301.32 45.46,304.64 36.01,298.65 42.2,289.33ZM172.18,322.73 157.47,317.38 162.93,302.39 173.02,297.55 177.64,307.74ZM178.12,329.9 189.19,318.83 200.47,330.11 200.59,341.3 189.4,341.18ZM313.11,296.77 327.82,291.41 333.27,306.4 328.65,316.6 318.56,311.76ZM532.33,221.73 545.89,229.56 537.91,243.37 527.14,246.39 524.36,235.54ZM545.79,317.45 560.5,312.1 565.95,327.08 561.33,337.28 551.24,332.44ZM449.94,336.03 447.22,351.44 431.51,348.67 424.99,339.58 434.23,333.26ZM260.75,453.28 264.01,468.59 248.41,471.91 238.95,465.92 245.15,456.6ZM515.7,455.97 531.35,455.97 531.35,471.92 523.53,479.92 515.7,471.92ZM379.26,496.31 390.33,485.24 401.61,496.52 401.73,507.71 390.54,507.59ZM180.27,621.07 167.44,612.1 176.59,599.03 187.59,596.97 189.42,608.01ZM146.81,617.44 161.93,613.38 166.06,628.79 160.57,638.54 150.93,632.84ZM50.5,637.39 47.79,652.8 32.08,650.03 25.56,640.94 34.8,634.62ZM315.65,648.53 302.09,640.7 310.07,626.89 320.85,623.88 323.63,634.72ZM353.5,600.42 350.78,615.83 335.08,613.06 328.56,603.97 337.8,597.65ZM448.84,621.4 463.55,616.04 469,631.03 464.38,641.22 454.29,636.38ZM621.12,612.53 605.71,609.81 608.48,594.11 617.58,587.59 623.89,596.82ZM556.89,627.02 570.45,634.85 562.47,648.66 551.7,651.68 548.92,640.83ZM1723.31,40.34 1726.57,55.65 1710.97,58.97 1701.51,52.98 1707.71,43.66ZM1976.03,46.44 1990.74,41.09 1996.19,56.08 1991.57,66.27 1981.48,61.43ZM1834.33,84.56 1819.62,79.2 1825.07,64.22 1835.16,59.38 1839.78,69.57ZM1841.04,86.56 1852.11,75.49 1863.39,86.77 1863.51,97.96 1852.32,97.84ZM1393.58,287.81 1404.65,298.88 1393.37,310.16 1382.18,310.28 1382.3,299.09ZM1753.94,252.76 1767.5,260.58 1759.52,274.4 1748.74,277.41 1745.96,266.57ZM1921.48,285.44 1906.07,288.16 1903.3,272.45 1909.62,263.22 1918.71,269.74ZM1907.76,314.8 1921.32,322.63 1913.35,336.44 1902.57,339.46 1899.79,328.62ZM1763.78,401.78 1748.36,404.5 1745.59,388.79 1751.91,379.56 1761.01,386.08ZM1634.34,405.77 1634.34,390.12 1650.29,390.12 1658.29,397.95 1650.29,405.77ZM1546.07,441.95 1535,453.02 1523.72,441.74 1523.6,430.55 1534.79,430.67ZM1517.44,469.66 1504.61,460.68 1513.76,447.62 1524.76,445.55 1526.59,456.6ZM1373.88,448.6 1388.59,453.96 1383.14,468.94 1373.05,473.78 1368.43,463.59ZM1349.85,487.41 1363.41,495.24 1355.44,509.05 1344.66,512.07 1341.88,501.23ZM1585.64,613.64 1600.36,608.29 1605.81,623.27 1601.19,633.47 1591.1,628.63ZM1443.94,644.52 1429.23,639.16 1434.69,624.17 1444.78,619.33 1449.4,629.53ZM1450.14,646.77 1461.21,635.7 1472.49,646.98 1472.61,658.17 1461.42,658.05ZM1634.12,640.11 1637.37,655.42 1621.77,658.74 1612.32,652.75 1618.52,643.43ZM1746.43,681.49 1731.72,676.13 1737.17,661.14 1747.26,656.3 1751.88,666.5ZM1828.89,652.46 1839.96,641.39 1851.24,652.67 1851.36,663.86 1840.17,663.74ZM1889.42,649.83 1904.13,644.48 1909.59,659.47 1904.97,669.66 1894.87,664.82ZM1885.67,570.31 1888.92,585.62 1873.32,588.94 1863.87,582.94 1870.07,573.62ZM1997.2,607.8 1982.49,602.45 1987.95,587.46 1998.04,582.62 2002.66,592.82ZM2017.3,263.86 2021.35,248.73 2036.76,252.86 2042.46,262.49 2032.71,267.98ZM2018.73,409.61 2016.01,394.2 2031.71,391.43 2040.95,397.75 2034.43,406.84ZM2139.96,580.03 2154.67,574.68 2160.13,589.67 2155.51,599.86 2145.41,595.02ZM2002.39,609.29 2013.46,598.22 2024.74,609.5 2024.86,620.69 2013.67,620.57ZM823.34,42.41 826.6,57.72 810.99,61.04 801.54,55.04 807.74,45.72ZM1076.06,46.96 1090.77,41.61 1096.22,56.59 1091.6,66.79 1081.51,61.95ZM935.65,83.78 920.94,78.43 926.39,63.44 936.48,58.6 941.1,68.79ZM941.85,85.78 952.92,74.71 964.2,85.99 964.32,97.18 953.13,97.06ZM796.47,233.65 799.19,218.24 814.89,221.01 821.41,230.1 812.18,236.42ZM699.64,253.13 684.22,255.85 681.45,240.14 687.77,230.9 696.87,237.42ZM714.07,347.95 700.51,340.12 708.49,326.31 719.27,323.29 722.05,334.13ZM1073.74,242.45 1083.8,230.46 1096.02,240.71 1097.12,251.85 1085.96,252.71ZM1190.09,255.55 1205.68,254.18 1207.07,270.07 1199.97,278.72 1191.48,271.44ZM1217.1,266.59 1211.74,251.88 1226.73,246.42 1236.92,251.04 1232.08,261.13ZM701.83,387.36 705.09,402.67 689.48,405.98 680.03,399.99 686.23,390.67ZM816.21,424.85 801.5,419.5 806.95,404.51 817.04,399.67 821.66,409.86ZM822.15,430.73 833.22,419.66 844.5,430.94 844.62,442.13 833.43,442.01ZM956.36,396.56 971.07,391.21 976.52,406.2 971.9,416.39 961.81,411.55ZM1005.09,423.03 1008.34,438.35 992.74,441.66 983.29,435.67 989.49,426.35ZM1258.84,431.98 1273.55,426.63 1279,441.61 1274.38,451.81 1264.29,446.97ZM1117.4,462.34 1102.69,456.99 1108.14,442 1118.23,437.16 1122.85,447.35ZM1012.99,512.82 997.87,516.87 993.74,501.47 999.23,491.72 1008.86,497.42ZM836.56,487.68 852.21,487.68 852.21,503.63 844.39,511.63 836.56,503.63ZM1233.09,536.61 1246.65,528.78 1254.62,542.59 1251.84,553.43 1241.06,550.42ZM823.34,570.31 826.6,585.62 810.99,588.94 801.54,582.94 807.74,573.62ZM1076.83,580.55 1091.54,575.19 1097,590.18 1092.38,600.38 1082.29,595.54ZM935.65,610.39 920.94,605.04 926.39,590.05 936.48,585.21 941.1,595.4ZM941.85,612.65 952.92,601.58 964.2,612.86 964.32,624.05 953.13,623.93ZM820.25,638.17 822.97,622.75 838.68,625.52 845.2,634.62 835.96,640.94ZM724.2,657.9 708.78,660.62 706.01,644.91 712.33,635.67 721.43,642.19ZM1330.06,605.21 1333.32,620.52 1317.72,623.84 1308.26,617.85 1314.46,608.53ZM411.73,52.93 398.17,60.76 390.2,46.94 392.98,36.1 403.75,39.11ZM658.84,50.83 666.67,37.27 680.49,45.25 683.5,56.03 672.66,58.8ZM567.06,79.25 552.35,84.6 546.89,69.61 551.51,59.42 561.6,64.26Z"/>
<path fill="#16ae4b" d="M130.05,286.05 118.98,297.12 107.49,285.63 118.46,285.54 118.56,274.56ZM199.17,273.96 214.42,277.48 210.76,293.31 204.87,284.05 195.51,289.79ZM151.15,363.39 155.2,348.27 170.9,352.48 161.43,358.04 166.85,367.6ZM227.55,375.23 224.83,359.81 240.83,356.99 234.61,366.04 243.55,372.41ZM648.14,205.06 662.85,210.42 657.29,225.69 652.57,215.78 642.58,220.33ZM519.14,350.69 508.07,361.76 496.58,350.27 507.55,350.18 507.65,339.2ZM603.19,361.19 587.77,363.91 584.95,347.91 593.99,354.13 600.36,345.19ZM332.99,454.88 321.92,465.95 310.43,454.45 321.41,454.36 321.5,443.38ZM402.11,442 417.37,445.53 413.71,461.36 407.82,452.1 398.46,457.84ZM354.36,530.31 358.41,515.19 374.1,519.4 364.64,524.97 370.05,534.52ZM430.5,539.57 427.78,524.15 443.78,521.33 437.56,530.37 446.5,536.74ZM141.58,587.71 145.64,572.59 161.33,576.79 151.87,582.36 157.28,591.91ZM117.72,645.14 115,660.56 99,657.74 107.94,651.37 101.72,642.32ZM204.27,661.52 188.85,664.24 186.03,648.23 195.08,654.46 201.45,645.52ZM398.4,623.09 387.33,634.16 375.84,622.67 386.82,622.58 386.91,611.6ZM506.52,601.85 491.02,604.03 488.76,587.94 497.58,594.48 504.26,585.76ZM1794.26,41.93 1783.19,53 1771.7,41.51 1782.68,41.42 1782.77,30.44ZM1863.9,30.61 1879.15,34.14 1875.49,49.97 1869.6,40.71 1860.24,46.45ZM1814.85,121.34 1818.9,106.22 1834.59,110.42 1825.13,115.99 1830.54,125.54ZM1890.47,132.66 1887.75,117.24 1903.76,114.42 1897.53,123.47 1906.47,129.84ZM1868.97,236.61 1883.68,241.96 1878.12,257.23 1873.4,247.32 1863.41,251.88ZM1953.81,258.89 1951.09,243.47 1967.1,240.65 1960.87,249.7 1969.81,256.07ZM1880.12,418.07 1864.7,420.79 1861.88,404.79 1870.93,411.01 1877.3,402.07ZM1947.99,452.58 1952.04,437.46 1967.74,441.67 1958.27,447.24 1963.69,456.79ZM1574.97,414.24 1563.9,403.17 1575.39,391.68 1575.48,402.66 1586.46,402.75ZM1479.34,413.3 1493.64,406.94 1500.25,421.78 1489.97,417.93 1485.95,428.15ZM1473,592.12 1488.25,595.65 1484.59,611.48 1478.7,602.22 1469.34,607.96ZM1403.88,605.51 1392.81,616.58 1381.32,605.09 1392.3,605 1392.39,594.02ZM1424.46,682.07 1428.52,666.95 1444.21,671.16 1434.75,676.72 1440.16,686.28ZM1705.07,641.19 1694,652.26 1682.5,640.77 1693.48,640.68 1693.57,629.7ZM1774.7,624.96 1789.96,628.48 1786.3,644.31 1780.41,635.05 1771.05,640.79ZM1957.13,572.42 1946.06,583.49 1934.57,572 1945.55,571.91 1945.64,560.93ZM1979.01,648.46 1983.07,633.34 1998.76,637.55 1989.3,643.12 1994.71,652.67ZM2023.17,562.91 2038.43,566.43 2034.77,582.26 2028.88,573 2019.52,578.74ZM2054.92,659.78 2052.2,644.37 2068.2,641.54 2061.98,650.59 2070.92,656.96ZM895.58,42.71 884.51,53.78 873.02,42.29 884,42.2 884.09,31.22ZM964.7,31.39 979.95,34.91 976.3,50.74 970.4,41.48 961.04,47.22ZM916.17,121.34 920.22,106.22 935.92,110.42 926.45,115.99 931.86,125.54ZM992.57,133.69 989.85,118.28 1005.85,115.45 999.63,124.5 1008.57,130.87ZM727.31,220.48 737.37,208.49 749.82,218.93 738.89,219.98 739.75,230.92ZM1199.72,227.39 1199.72,211.73 1215.97,211.73 1208.27,219.56 1215.97,227.39ZM1133.92,267.23 1148.22,260.87 1154.83,275.71 1144.55,271.86 1140.53,282.08ZM1268.89,236.31 1279.96,225.24 1291.45,236.73 1280.47,236.82 1280.38,247.8ZM1232.76,311.61 1217.26,313.79 1215,297.7 1223.82,304.23 1230.5,295.52ZM774.07,387.4 763,398.47 751.51,386.98 762.49,386.89 762.58,375.91ZM843.71,375.3 858.96,378.83 855.31,394.66 849.41,385.4 840.05,391.14ZM795.95,464.22 800,449.1 815.7,453.3 806.23,458.87 811.65,468.42ZM1076.55,423.85 1065.48,434.92 1053.99,423.43 1064.97,423.34 1065.06,412.36ZM1146.19,410.98 1161.44,414.5 1157.79,430.34 1151.89,421.07 1142.53,426.81ZM952.95,464.92 967.25,458.55 973.86,473.4 963.58,469.55 959.56,479.77ZM1190.8,512.23 1205.1,505.87 1211.71,520.71 1201.42,516.86 1197.41,527.08ZM1280.05,512.42 1277.34,497 1293.34,494.18 1287.12,503.23 1296.06,509.6ZM895.58,572.42 884.51,583.49 873.02,572 884,571.91 884.09,560.93ZM964.7,561.1 979.95,564.62 976.3,580.46 970.4,571.19 961.04,576.93ZM916.17,648.46 920.22,633.34 935.92,637.55 926.45,643.12 931.86,652.67ZM992.57,660.56 989.85,645.14 1005.85,642.32 999.63,651.37 1008.57,657.74ZM666.28,614.16 680.99,608.8 686.55,624.07 676.56,619.51 671.84,629.43ZM751.09,623.96 761.15,611.97 773.6,622.41 762.67,623.46 763.54,634.4ZM507.09,30.73 522.28,26.94 526.22,42.71 516.76,37.13 511.03,46.5ZM591.68,40.35 602.75,29.28 614.24,40.77 603.26,40.86 603.17,51.84Z"/>
<path fill="#35359b" d="M94.61,330.37 79.3,333.62 76.01,318.12 80.66,317.13 79.95,313.8 84.16,312.91 84.86,316.23 91.32,314.86ZM132.32,327.63 121.25,316.56 132.45,305.35 135.82,308.72 138.22,306.31 141.26,309.35 138.86,311.76 143.52,316.42ZM236.72,257.97 251.61,262.81 246.71,277.89 242.19,276.42 241.14,279.65 237.05,278.32 238.1,275.09 231.83,273.05ZM267.63,287.81 278.7,298.88 267.49,310.09 264.13,306.72 261.73,309.13 258.69,306.09 261.09,303.68 256.42,299.02ZM267.51,328 283.16,328 283.16,343.85 278.41,343.85 278.41,347.25 274.11,347.25 274.11,343.85 267.51,343.85ZM607.52,195.56 622.93,192.84 625.69,208.45 621,209.28 621.59,212.62 617.36,213.37 616.77,210.02 610.27,211.17ZM468.07,303.49 483.49,306.21 480.73,321.82 476.05,320.99 475.46,324.34 471.23,323.6 471.82,320.25 465.32,319.1ZM511.11,319.56 522.18,308.49 533.39,319.7 530.03,323.06 532.43,325.47 529.39,328.51 526.99,326.1 522.32,330.77ZM439.15,427.31 454.04,432.15 449.14,447.22 444.62,445.75 443.57,448.99 439.48,447.66 440.53,444.43 434.26,442.39ZM288.21,506.71 277.14,495.64 288.35,484.43 291.71,487.79 294.12,485.39 297.16,488.43 294.75,490.83 299.42,495.5ZM470.46,496.73 486.11,496.73 486.11,512.58 481.36,512.58 481.36,515.98 477.06,515.98 477.06,512.58 470.46,512.58ZM69.98,603.56 85.1,607.61 80.99,622.92 76.4,621.69 75.52,624.97 71.37,623.86 72.25,620.58 65.87,618.87ZM111.68,620.4 122.75,609.33 133.96,620.54 130.6,623.9 133,626.31 129.96,629.35 127.56,626.94 122.89,631.61ZM273.6,609.48 257.94,609.48 257.94,593.63 262.7,593.63 262.7,590.23 267,590.23 267,593.63 273.6,593.63ZM240.47,676 225.05,678.72 222.3,663.11 226.98,662.28 226.39,658.93 230.62,658.19 231.21,661.53 237.71,660.39ZM383.14,585.24 394.21,574.17 405.42,585.38 402.05,588.74 404.46,591.15 401.42,594.19 399.01,591.78 394.35,596.45ZM630.79,599.04 646.2,596.32 648.95,611.93 644.27,612.76 644.86,616.1 640.63,616.85 640.04,613.5 633.54,614.65ZM542.95,641.61 527.53,644.33 524.78,628.72 529.46,627.9 528.87,624.55 533.11,623.8 533.7,627.15 540.2,626ZM1900.94,16.44 1915.83,21.28 1910.93,36.35 1906.41,34.88 1905.35,38.11 1901.27,36.79 1902.32,33.55 1896.04,31.51ZM1758.05,88.83 1742.74,92.08 1739.44,76.58 1744.09,75.59 1743.39,72.27 1747.59,71.37 1748.3,74.7 1754.76,73.33ZM1796.79,87.39 1785.72,76.32 1796.93,65.11 1800.29,68.47 1802.69,66.07 1805.73,69.11 1803.33,71.51 1808,76.18ZM1931.72,86.46 1947.38,86.46 1947.38,102.31 1942.62,102.31 1942.62,105.71 1938.32,105.71 1938.32,102.31 1931.72,102.31ZM1828.35,226.84 1843.77,224.12 1846.52,239.73 1841.84,240.56 1842.43,243.91 1838.19,244.65 1837.6,241.31 1831.1,242.45ZM1957.13,280.88 1946.06,291.95 1934.86,280.75 1938.22,277.38 1935.81,274.98 1938.85,271.94 1941.26,274.34 1945.93,269.68ZM1982.14,324.12 1997.79,324.12 1997.79,339.97 1993.04,339.97 1993.04,343.37 1988.74,343.37 1988.74,339.97 1982.14,339.97ZM1841.95,434.94 1826.36,433.57 1827.74,417.78 1832.48,418.2 1832.77,414.81 1837.06,415.19 1836.76,418.57 1843.33,419.15ZM1975.28,397.17 1986.35,408.24 1975.14,419.44 1971.78,416.08 1969.37,418.49 1966.33,415.45 1968.74,413.04 1964.07,408.38ZM1440.49,407.02 1454.68,400.41 1461.38,414.77 1457.07,416.78 1458.51,419.86 1454.61,421.68 1453.17,418.6 1447.19,421.39ZM1578.38,436 1567.31,447.07 1556.11,435.86 1559.47,432.5 1557.07,430.1 1560.11,427.06 1562.51,429.46 1567.18,424.8ZM1622.92,440.75 1607.26,440.75 1607.26,424.9 1612.02,424.9 1612.02,421.5 1616.32,421.5 1616.32,424.9 1622.92,424.9ZM1509.26,577.43 1524.15,582.27 1519.25,597.34 1514.73,595.87 1513.68,599.11 1509.59,597.78 1510.64,594.54 1504.36,592.51ZM1367.15,649.05 1351.84,652.3 1348.54,636.8 1353.19,635.81 1352.49,632.48 1356.69,631.59 1357.4,634.92 1363.86,633.54ZM1405.63,647.6 1394.56,636.54 1405.77,625.33 1409.13,628.69 1411.53,626.29 1414.58,629.33 1412.17,631.73 1416.84,636.4ZM1540.82,646.68 1556.48,646.68 1556.48,662.53 1551.72,662.53 1551.72,665.93 1547.42,665.93 1547.42,662.53 1540.82,662.53ZM1812.52,612.33 1827.41,617.17 1822.51,632.24 1817.99,630.78 1816.94,634.01 1812.85,632.68 1813.9,629.45 1807.62,627.41ZM1708.89,683.28 1697.82,672.21 1709.03,661 1712.39,664.37 1714.79,661.96 1717.83,665 1715.43,667.41 1720.1,672.07ZM1922.48,614.15 1907.16,617.4 1903.87,601.9 1908.52,600.91 1907.81,597.58 1912.02,596.69 1912.73,600.01 1919.18,598.64ZM1960.18,611.93 1949.11,600.86 1960.32,589.65 1963.68,593.01 1966.08,590.61 1969.13,593.65 1966.72,596.05 1971.39,600.72ZM2092.75,297.73 2077.34,295.01 2080.09,279.4 2084.77,280.23 2085.36,276.88 2089.6,277.62 2089.01,280.97 2095.51,282.12ZM2064.44,539.78 2079.15,545.13 2073.73,560.02 2069.26,558.4 2068.1,561.59 2064.06,560.12 2065.22,556.93 2059.02,554.67ZM2094.88,613.07 2110.53,613.07 2110.53,628.92 2105.78,628.92 2105.78,632.32 2101.48,632.32 2101.48,628.92 2094.88,628.92ZM1002.26,15.92 1017.15,20.76 1012.25,35.83 1007.73,34.36 1006.68,37.6 1002.59,36.27 1003.64,33.03 997.36,31ZM859.37,89.35 844.06,92.6 840.77,77.1 845.42,76.11 844.71,72.78 848.92,71.89 849.62,75.22 856.08,73.84ZM897.33,87.39 886.26,76.32 897.47,65.11 900.83,68.47 903.24,66.07 906.28,69.11 903.88,71.51 908.54,76.18ZM1032.53,86.46 1048.18,86.46 1048.18,102.31 1043.43,102.31 1043.43,105.71 1039.13,105.71 1039.13,102.31 1032.53,102.31ZM735.29,249.86 724.22,260.93 713.01,249.72 716.38,246.36 713.97,243.96 717.01,240.92 719.42,243.32 724.08,238.65ZM778.01,266.4 762.7,263.15 765.99,247.64 770.65,248.63 771.35,245.31 775.56,246.2 774.85,249.53 781.31,250.9ZM1124.94,212.83 1136.01,223.9 1124.81,235.11 1121.44,231.75 1119.04,234.15 1116,231.11 1118.4,228.71 1113.74,224.04ZM1157.12,244.15 1171.31,237.53 1178.01,251.9 1173.7,253.91 1175.13,256.99 1171.24,258.8 1169.8,255.72 1163.82,258.51ZM1314.79,288.16 1299.37,285.44 1302.12,269.83 1306.81,270.66 1307.4,267.31 1311.63,268.06 1311.04,271.41 1317.54,272.55ZM1260.18,337.85 1244.52,337.85 1244.52,322 1249.28,322 1249.28,318.6 1253.58,318.6 1253.58,322 1260.18,322ZM738.64,431.71 723.33,434.96 720.03,419.46 724.68,418.47 723.98,415.15 728.18,414.25 728.89,417.58 735.34,416.21ZM776.34,428.98 765.27,417.91 776.48,406.7 779.84,410.06 782.25,407.66 785.29,410.7 782.88,413.1 787.55,417.77ZM880.75,359.84 895.64,364.67 890.74,379.75 886.22,378.28 885.17,381.51 881.08,380.18 882.13,376.95 875.85,374.91ZM996.85,391.34 1012.5,391.34 1012.5,407.19 1007.75,407.19 1007.75,410.59 1003.45,410.59 1003.45,407.19 996.85,407.19ZM918.04,452.8 933.45,450.08 936.21,465.69 931.52,466.51 932.11,469.86 927.88,470.61 927.29,467.26 920.79,468.41ZM1183.23,395.77 1198.12,400.61 1193.22,415.68 1188.7,414.21 1187.65,417.45 1183.56,416.12 1184.61,412.88 1178.33,410.85ZM1079.6,465.17 1068.53,454.1 1079.74,442.89 1083.1,446.25 1085.5,443.85 1088.54,446.89 1086.14,449.3 1090.81,453.96ZM1046.82,507.79 1035.75,518.86 1024.54,507.65 1027.91,504.29 1025.5,501.88 1028.54,498.84 1030.95,501.25 1035.61,496.58ZM1089.87,524.11 1074.45,521.39 1077.2,505.79 1081.88,506.61 1082.47,503.26 1086.71,504.01 1086.12,507.36 1092.62,508.5ZM1151.95,504.92 1166.14,498.3 1172.83,512.67 1168.53,514.68 1169.96,517.76 1166.06,519.57 1164.63,516.49 1158.65,519.28ZM1291.13,534.42 1280.06,545.49 1268.86,534.28 1272.22,530.92 1269.81,528.51 1272.85,525.47 1275.26,527.87 1279.93,523.21ZM859.37,615.44 844.06,618.69 840.77,603.19 845.42,602.2 844.71,598.87 848.92,597.98 849.62,601.31 856.08,599.93ZM897.33,613.48 886.26,602.41 897.47,591.2 900.83,594.56 903.24,592.16 906.28,595.2 903.88,597.6 908.54,602.27ZM1032.53,613.07 1048.18,613.07 1048.18,628.92 1043.43,628.92 1043.43,632.32 1039.13,632.32 1039.13,628.92 1032.53,628.92ZM759.33,653.34 748.26,664.41 737.06,653.2 740.42,649.84 738.01,647.44 741.06,644.39 743.46,646.8 748.13,642.13ZM802.57,670.4 787.26,667.14 790.55,651.64 795.21,652.63 795.91,649.3 800.12,650.2 799.41,653.52 805.87,654.9ZM470.4,17.23 485.38,12.66 490.01,27.81 485.46,29.2 486.46,32.46 482.34,33.71 481.35,30.46 475.04,32.39ZM588.95,63.38 600.02,74.45 588.81,85.66 585.45,82.29 583.05,84.7 580.01,81.66 582.41,79.25 577.74,74.59ZM642.52,88.86 627.39,84.8 631.5,69.49 636.09,70.73 636.97,67.44 641.12,68.55 640.24,71.84 646.62,73.55Z"/>
<path fill="#f7e51f" d="M111.31,330.14 111.31,345.8 94.36,345.8 94.36,340.84 98.16,340.84 98.16,333.74 94.36,333.74 94.36,330.14ZM244.87,330.65 229.75,334.7 225.36,318.33 230.15,317.04 231.13,320.71 237.99,318.88 237,315.21 240.48,314.27ZM581.31,228.27 594.87,220.44 603.34,235.12 599.05,237.6 597.15,234.3 591,237.85 592.9,241.15 589.78,242.95ZM628.11,266.19 612.69,263.47 615.63,246.78 620.51,247.64 619.85,251.38 626.84,252.61 627.5,248.87 631.05,249.49ZM620.13,302.98 635.25,307.03 630.86,323.4 626.08,322.12 627.06,318.45 620.2,316.61 619.22,320.28 615.74,319.35ZM658.21,349.24 644.65,341.41 653.12,326.73 657.41,329.21 655.51,332.5 661.66,336.05 663.56,332.76 666.68,334.56ZM465.11,454.41 478.67,462.24 470.2,476.92 465.9,474.44 467.8,471.15 461.66,467.6 459.76,470.89 456.64,469.09ZM314.26,498.87 314.26,514.53 297.31,514.53 297.31,509.57 301.11,509.57 301.11,502.47 297.31,502.47 297.31,498.87ZM447.82,498.6 432.69,502.66 428.31,486.28 433.09,485 434.08,488.67 440.94,486.83 439.95,483.16 443.43,482.23ZM101.49,592.46 101.49,608.12 84.54,608.12 84.54,603.16 88.34,603.16 88.34,596.06 84.54,596.06 84.54,592.46ZM221.56,602.6 236.27,607.95 230.48,623.88 225.82,622.19 227.12,618.61 220.45,616.19 219.15,619.76 215.76,618.53ZM256.53,650.03 243.71,641.05 253.43,627.17 257.49,630.01 255.31,633.12 261.13,637.19 263.31,634.08 266.26,636.15ZM567.86,606.32 554.31,614.15 545.83,599.47 550.12,596.99 552.02,600.28 558.17,596.73 556.27,593.44 559.39,591.64ZM605.87,632.26 619.43,624.44 627.9,639.12 623.61,641.59 621.71,638.3 615.56,641.85 617.46,645.14 614.34,646.94ZM651.37,670.18 635.96,667.47 638.9,650.77 643.78,651.63 643.12,655.38 650.11,656.61 650.77,652.87 654.32,653.49ZM1926.38,42.24 1939.94,50.07 1931.46,64.75 1927.17,62.27 1929.07,58.98 1922.92,55.43 1921.02,58.72 1917.9,56.92ZM1776.3,88.35 1776.3,104 1759.35,104 1759.35,99.05 1763.15,99.05 1763.15,91.95 1759.35,91.95 1759.35,88.35ZM1909.86,88.34 1894.74,92.39 1890.35,76.01 1895.14,74.73 1896.12,78.4 1902.98,76.56 1901.99,72.89 1905.47,71.96ZM1803.43,259.81 1816.99,251.98 1825.47,266.66 1821.17,269.14 1819.27,265.85 1813.13,269.4 1815.03,272.69 1811.91,274.49ZM1849.71,297.73 1834.29,295.01 1837.24,278.32 1842.12,279.18 1841.46,282.92 1848.45,284.15 1849.11,280.41 1852.66,281.04ZM1832.23,364.38 1847.64,361.66 1850.59,378.35 1845.71,379.22 1845.05,375.47 1838.06,376.71 1838.72,380.45 1835.17,381.07ZM1822.3,399.58 1808.75,407.41 1800.27,392.73 1804.56,390.25 1806.46,393.54 1812.61,389.99 1810.71,386.7 1813.83,384.9ZM1591.22,456.77 1593.93,441.35 1610.63,444.29 1609.77,449.17 1606.02,448.51 1604.79,455.5 1608.53,456.16 1607.91,459.71ZM1423.05,444.76 1435.04,434.69 1445.93,447.68 1442.14,450.86 1439.7,447.95 1434.26,452.51 1436.7,455.43 1433.94,457.74ZM1476.33,471.77 1460.68,471.77 1460.68,454.82 1465.63,454.82 1465.63,458.62 1472.73,458.62 1472.73,454.82 1476.33,454.82ZM1536,606.34 1549.55,614.17 1541.08,628.85 1536.79,626.37 1538.69,623.08 1532.54,619.53 1530.64,622.82 1527.52,621.02ZM1384.37,648.82 1384.37,664.48 1367.42,664.48 1367.42,659.52 1371.22,659.52 1371.22,652.42 1367.42,652.42 1367.42,648.82ZM1518.7,648.55 1503.58,652.6 1499.19,636.23 1503.98,634.95 1504.96,638.62 1511.82,636.78 1510.84,633.11 1514.31,632.18ZM1939.69,615.21 1939.69,630.87 1922.74,630.87 1922.74,625.91 1926.54,625.91 1926.54,618.81 1922.74,618.81 1922.74,615.21ZM2088.76,572.73 2102.32,580.56 2093.84,595.24 2089.55,592.76 2091.45,589.47 2085.3,585.92 2083.4,589.21 2080.28,587.41ZM2073.53,613.65 2058.41,617.7 2054.02,601.33 2058.81,600.05 2059.79,603.72 2066.65,601.88 2065.67,598.21 2069.14,597.28ZM1027.7,43.54 1041.26,51.36 1032.78,66.04 1028.49,63.57 1030.39,60.27 1024.24,56.72 1022.34,60.02 1019.23,58.22ZM876.85,88.35 876.85,104 859.9,104 859.9,99.05 863.7,99.05 863.7,91.95 859.9,91.95 859.9,88.35ZM1010.4,88.34 995.28,92.39 990.9,76.01 995.68,74.73 996.66,78.4 1003.52,76.56 1002.54,72.89 1006.02,71.96ZM1157.49,214.13 1152.13,228.84 1136.2,223.05 1137.9,218.39 1141.47,219.69 1143.9,213.02 1140.33,211.72 1141.56,208.33ZM1264.43,265.48 1277.25,274.46 1267.53,288.34 1263.47,285.5 1265.65,282.39 1259.84,278.31 1257.66,281.43 1254.71,279.36ZM1292.29,319.37 1276.7,318.01 1278.17,301.12 1283.11,301.56 1282.78,305.34 1289.85,305.96 1290.18,302.18 1293.77,302.49ZM991.51,350.22 1005.06,358.05 996.59,372.73 992.3,370.25 994.2,366.96 988.05,363.41 986.15,366.7 983.03,364.9ZM755.34,431.48 755.34,447.14 738.39,447.14 738.39,442.18 742.19,442.18 742.19,435.08 738.39,435.08 738.39,431.48ZM889.67,431.99 874.55,436.04 870.16,419.67 874.95,418.39 875.93,422.06 882.79,420.22 881.81,416.55 885.28,415.62ZM1209.19,425.2 1222.75,433.02 1214.27,447.7 1209.98,445.23 1211.88,441.93 1205.73,438.38 1203.83,441.68 1200.71,439.88ZM940.69,524.63 925.28,521.91 928.22,505.22 933.1,506.08 932.44,509.82 939.43,511.06 940.09,507.31 943.64,507.94ZM1135.28,542.39 1147.27,532.33 1158.17,545.31 1154.37,548.5 1151.93,545.59 1146.49,550.15 1148.93,553.06 1146.17,555.38ZM1027.18,572.73 1040.74,580.56 1032.27,595.24 1027.98,592.76 1029.88,589.47 1023.73,585.92 1021.83,589.21 1018.71,587.41ZM876.85,615.21 876.85,630.87 859.9,630.87 859.9,625.91 863.7,625.91 863.7,618.81 859.9,618.81 859.9,615.21ZM1010.4,614.94 995.28,618.99 990.9,602.62 995.68,601.34 996.66,605.01 1003.52,603.17 1002.54,599.5 1006.02,598.57ZM466.73,53.43 453.17,61.26 444.7,46.58 448.99,44.1 450.89,47.39 457.04,43.84 455.14,40.55 458.25,38.75ZM492.41,89.35 477.1,86.1 480.63,69.52 485.47,70.55 484.68,74.27 491.63,75.74 492.42,72.03 495.94,72.78Z"/>
</g>
<text y="69" font-size="28" class="b"><tspan x="26.33" textLength="15.29" lengthAdjust="spacingAndGlyphs">5</tspan><tspan x="44.59">'</tspan></text>
<text y="194.8" font-size="28" class="b"><tspan x="25.18" textLength="15.29" lengthAdjust="spacingAndGlyphs">3</tspan><tspan x="43.09">'</tspan></text>
<text y="69" font-size="28" class="b"><tspan x="2241.48" textLength="15.29" lengthAdjust="spacingAndGlyphs">3</tspan><tspan x="2259.54">'</tspan></text>
<text y="194.8" font-size="28" class="b"><tspan x="2240.03" textLength="15.29" lengthAdjust="spacingAndGlyphs">5</tspan><tspan x="2258.09">'</tspan></text>
<text y="491.8" font-size="28" class="b"><tspan x="26.33" textLength="15.29" lengthAdjust="spacingAndGlyphs">5</tspan><tspan x="44.59">'</tspan></text>
<text y="574.4" font-size="28" class="b"><tspan x="25.18" textLength="15.29" lengthAdjust="spacingAndGlyphs">3</tspan><tspan x="43.09">'</tspan></text>
<text y="491.8" font-size="28" class="b"><tspan x="2241.48" textLength="15.29" lengthAdjust="spacingAndGlyphs">3</tspan><tspan x="2259.54">'</tspan></text>
<text y="574.4" font-size="28" class="b"><tspan x="2240.03" textLength="15.29" lengthAdjust="spacingAndGlyphs">5</tspan><tspan x="2258.09">'</tspan></text>
<path d="M906.2,208.1 L934.9,208.1 M920.9,208.1 L956.65,278.31" stroke="#000" stroke-width="4.1" stroke-linecap="round" fill="none"/>
<text x="948.06" y="301.5" font-size="19" textLength="193.91" lengthAdjust="spacingAndGlyphs">PROBE BINDS FIRST</text>
<path d="M1324.2,304.3 H1341.8 V337.8 H1363.5 L1332.9,391.2 L1302.3,337.8 H1324.2 Z" fill="none" stroke="#d38d5f" stroke-width="3.8" stroke-linejoin="round"/>
<text x="1381.4" y="349.3" font-size="19" textLength="112.16" lengthAdjust="spacingAndGlyphs">ANNEALING</text>
<text x="1717.22" y="333.6" font-size="19" textLength="162.72" lengthAdjust="spacingAndGlyphs">DNA DEPENDENT</text>
<text x="1717.19" y="352" font-size="19" textLength="173.07" lengthAdjust="spacingAndGlyphs">DNA POLYMERASE</text>
<path d="M1679.4,437.8 L1708.1,437.8 M1729.85,368.19 L1694.6,437.8" stroke="#000" stroke-width="4.1" stroke-linecap="round" fill="none"/>
<text x="1931.77" y="369.6" font-size="19" textLength="283.59" lengthAdjust="spacingAndGlyphs">REVERSE/ANTISENSE PRIMER</text>
<path d="M1893.7,459 L1922.7,459 M1943.65,389.4 L1909,459" stroke="#000" stroke-width="4.1" stroke-linecap="round" fill="none"/>
<text x="371.67" y="685" font-size="19" textLength="247.17" lengthAdjust="spacingAndGlyphs">FORWARD/SENSE PRIMER</text>
<path d="M417.1,587.7 L445.8,587.7 M431.1,587.7 L395.35,658.61" stroke="#000" stroke-width="4.1" stroke-linecap="round" fill="none"/>
<path d="M2296.2,471.3 L2296.2,498.8 M2296.2,484.5 L2366.11,448.85" stroke="#000" stroke-width="4.1" stroke-linecap="round" fill="none"/>
<text x="2376.47" y="435.9" font-size="19" textLength="94.72" lengthAdjust="spacingAndGlyphs">ORIGINAL</text>
<text x="2376.26" y="454.6" font-size="19" textLength="214.62" lengthAdjust="spacingAndGlyphs">FORWARD/ANTISENSE</text>
<text x="2376.29" y="473.2" font-size="19" textLength="78.76" lengthAdjust="spacingAndGlyphs">STRAND</text>
<path d="M2296.2,546.9 L2296.2,574.4 M2296.2,560.8 L2366.11,595.95" stroke="#000" stroke-width="4.1" stroke-linecap="round" fill="none"/>
<text x="2376.47" y="592.1" font-size="19" textLength="94.72" lengthAdjust="spacingAndGlyphs">ORIGINAL</text>
<text x="2376.26" y="610.8" font-size="19" textLength="205.11" lengthAdjust="spacingAndGlyphs">REVERSE/ANTISENSE</text>
<text x="2376.29" y="629.3" font-size="19" textLength="78.76" lengthAdjust="spacingAndGlyphs">STRAND</text>
<path d="M1324.2,723.7 H1341.8 V757.2 H1363.5 L1332.9,810.6 L1302.3,757.2 H1324.2 Z" fill="none" stroke="#d38d5f" stroke-width="3.8" stroke-linejoin="round"/>
<text x="1379.48" y="753" font-size="19" textLength="123.38" lengthAdjust="spacingAndGlyphs">SAME IMAGE</text>
<text x="1378.81" y="771.1" font-size="19" textLength="156.4" lengthAdjust="spacingAndGlyphs">BUT SIMPLIFIED</text>
<text x="1862.46" y="742" font-size="19" textLength="283.89" lengthAdjust="spacingAndGlyphs">REVERSE/ANTISENSE PRIMER</text>
<path d="M1823.9,830.6 L1853.1,830.6 M1874.16,760.5 L1839.8,830.6" stroke="#000" stroke-width="4.1" stroke-linecap="round" fill="none"/>
<path d="M2275.12,842.38 L2275.12,869.88 M2275.12,855.58 L2345.03,819.93" stroke="#000" stroke-width="4.1" stroke-linecap="round" fill="none"/>
<text x="2355.39" y="806.98" font-size="19" textLength="94.72" lengthAdjust="spacingAndGlyphs">ORIGINAL</text>
<text x="2355.18" y="825.68" font-size="19" textLength="214.62" lengthAdjust="spacingAndGlyphs">FORWARD/ANTISENSE</text>
<text x="2355.21" y="844.28" font-size="19" textLength="78.76" lengthAdjust="spacingAndGlyphs">STRAND</text>
<path d="M2275.12,917.98 L2275.12,945.48 M2275.12,931.88 L2345.03,967.03" stroke="#000" stroke-width="4.1" stroke-linecap="round" fill="none"/>
<text x="2355.39" y="963.18" font-size="19" textLength="94.72" lengthAdjust="spacingAndGlyphs">ORIGINAL</text>
<text x="2355.18" y="981.88" font-size="19" textLength="205.11" lengthAdjust="spacingAndGlyphs">REVERSE/ANTISENSE</text>
<text x="2355.21" y="1000.38" font-size="19" textLength="78.76" lengthAdjust="spacingAndGlyphs">STRAND</text>
<line x1="67.4" y1="850.9" x2="2142.6" y2="850.9" stroke="#000" stroke-width="18.2" stroke-linecap="round"/>
<line x1="67.4" y1="850.9" x2="2142.6" y2="850.9" stroke="#8800aa" stroke-width="11.2" stroke-linecap="round"/>
<circle cx="2168.3" cy="850.9" r="6.9" fill="#8800aa" stroke="#000" stroke-width="3.5"/>
<circle cx="2191.5" cy="850.9" r="6.9" fill="#8800aa" stroke="#000" stroke-width="3.5"/>
<circle cx="2214.8" cy="850.9" r="6.9" fill="#8800aa" stroke="#000" stroke-width="3.5"/>
<line x1="138.3" y1="945.8" x2="2213.6" y2="945.8" stroke="#000" stroke-width="18.2" stroke-linecap="round"/>
<line x1="138.3" y1="945.8" x2="2213.6" y2="945.8" stroke="#8800aa" stroke-width="11.2" stroke-linecap="round"/>
<circle cx="66.2" cy="945.8" r="6.9" fill="#8800aa" stroke="#000" stroke-width="3.5"/>
<circle cx="89.3" cy="945.8" r="6.9" fill="#8800aa" stroke="#000" stroke-width="3.5"/>
<circle cx="112.8" cy="945.8" r="6.9" fill="#8800aa" stroke="#000" stroke-width="3.5"/>
<text y="858.8" font-size="28" class="sb"><tspan x="25.8" textLength="14.16" lengthAdjust="spacingAndGlyphs">5</tspan><tspan x="41.74">'</tspan></text>
<text y="956.2" font-size="28" class="sb"><tspan x="25.21" textLength="14.61" lengthAdjust="spacingAndGlyphs">3</tspan><tspan x="41.74">'</tspan></text>
<text y="862.6" font-size="27" class="sb"><tspan x="2230.73" textLength="14.16" lengthAdjust="spacingAndGlyphs">3</tspan><tspan x="2247.63">'</tspan></text>
<text y="955.2" font-size="27" class="sb"><tspan x="2231.12" textLength="13.71" lengthAdjust="spacingAndGlyphs">5</tspan><tspan x="2247.63">'</tspan></text>
<path d="M285.15,915.4 L574.97,915.4 L564.8,908.36 A7.37,7.37 0 0 1 573.2,896.24 L622.06,929.9 L285.15,929.9 A7.25,7.25 0 0 1 285.15,915.4 Z" fill="#e30000" stroke="#000" stroke-width="3.4" stroke-linejoin="miter" stroke-miterlimit="12"/>
<path d="M1308.15,847.3 L1614.67,847.3 L1602.37,838.78 A7.37,7.37 0 0 1 1610.76,826.66 L1661.76,861.8 L1308.15,861.8 A7.25,7.25 0 0 1 1308.15,847.3 Z" fill="#ffcc00" stroke="#000" stroke-width="3.4" stroke-linejoin="miter" stroke-miterlimit="12" transform="rotate(180 1667.2 863.5)"/>
<text x="301.01" y="903" font-size="10.7" textLength="139.65" lengthAdjust="spacingAndGlyphs">FORWARD/SENSE PRIMER</text>
<path d="M748.3,906 V931 H1077.9 V906 H1063.1 V916.5 H762.9 V906 Z" fill="#fb8c04" stroke="#000" stroke-width="3.4" stroke-linejoin="miter"/>
<rect x="750" y="898" width="11" height="19" fill="url(#stubL)"/>
<rect x="1064.8" y="898" width="11.4" height="19" fill="url(#stubR)"/>
<path d="M748.3,900 V906 M762.9,900 V906 M1063.1,900V906 M1077.9,900 V906" stroke="#000" stroke-width="3.4" fill="none"/>
<circle cx="754.6" cy="895.5" r="34" fill="url(#gWhite)"/>
<circle cx="756.8" cy="896.7" r="24" fill="url(#gBlack)"/>
<circle cx="755.6" cy="894.5" r="12.7" fill="#000"/>
<circle cx="1070.9" cy="894.5" r="32" fill="url(#gGreen)"/>
<circle cx="1070.9" cy="894.5" r="11.9" fill="#55d400" stroke="#000" stroke-width="1.6"/>
<text x="392.97" y="1077.1" font-size="19" textLength="247.07" lengthAdjust="spacingAndGlyphs">FORWARD/SENSE PRIMER</text>
<path d="M430.1,980.2 L459.7,980.2 M444.9,980.2 L409.05,1050.81" stroke="#000" stroke-width="4.1" stroke-linecap="round" fill="none"/>
<text x="959.26" y="1078.7" font-size="19" textLength="193.91" lengthAdjust="spacingAndGlyphs">PROBE BINDS FIRST</text>
<path d="M917.2,982.7 L946.4,982.7 M932.4,982.7 L967.75,1053.21" stroke="#000" stroke-width="4.1" stroke-linecap="round" fill="none"/>
</svg></body></html>
